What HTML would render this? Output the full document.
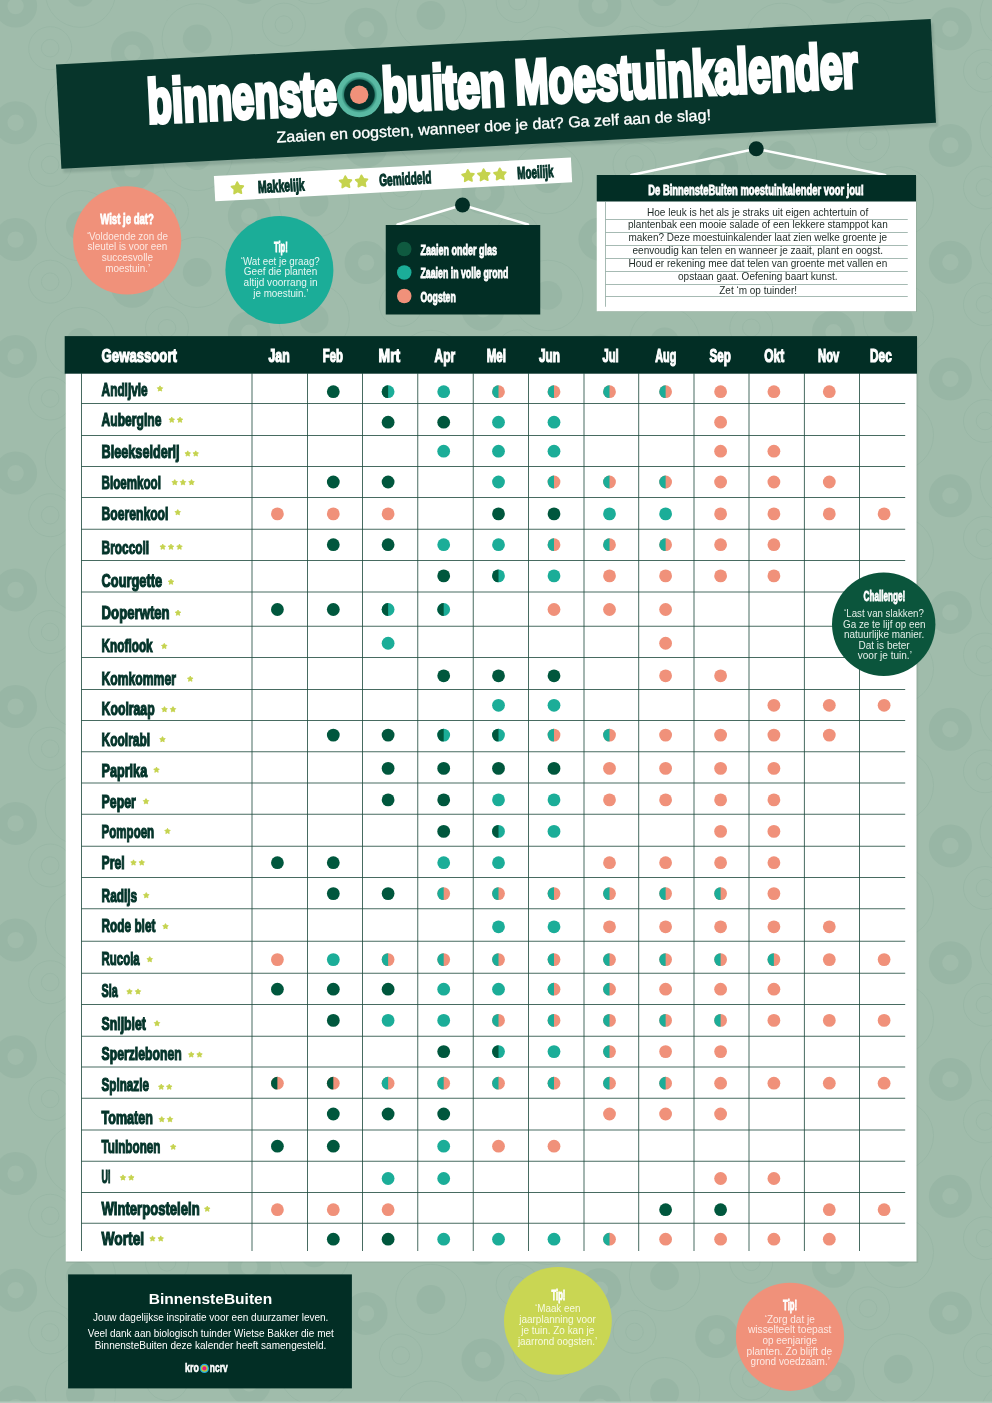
<!DOCTYPE html>
<html lang="nl"><head><meta charset="utf-8"><title>BinnensteBuiten Moestuinkalender</title>
<style>html,body{margin:0;padding:0;background:#a0bcab}svg{display:block}text{font-family:"Liberation Sans",sans-serif}</style>
</head><body>
<svg width="992" height="1403" viewBox="0 0 992 1403">
<rect width="992" height="1403" fill="#a0bcab"/>
<g fill="#98b6a5" stroke="none">
<circle cx="15.6" cy="6.1" r="14.85" fill="none" stroke="#98b6a5" stroke-width="13.3"/><circle cx="80.4" cy="-7.8" r="14.4"/><circle cx="15.6" cy="122.8" r="14.85" fill="none" stroke="#98b6a5" stroke-width="13.3"/><circle cx="80.4" cy="108.9" r="14.4"/><circle cx="15.6" cy="239.6" r="14.85" fill="none" stroke="#98b6a5" stroke-width="13.3"/><circle cx="80.4" cy="225.7" r="14.4"/><circle cx="15.6" cy="356.4" r="14.85" fill="none" stroke="#98b6a5" stroke-width="13.3"/><circle cx="80.4" cy="342.5" r="14.4"/><circle cx="15.6" cy="473.1" r="14.85" fill="none" stroke="#98b6a5" stroke-width="13.3"/><circle cx="80.4" cy="459.2" r="14.4"/><circle cx="15.6" cy="589.9" r="14.85" fill="none" stroke="#98b6a5" stroke-width="13.3"/><circle cx="80.4" cy="576.0" r="14.4"/><circle cx="15.6" cy="706.6" r="14.85" fill="none" stroke="#98b6a5" stroke-width="13.3"/><circle cx="80.4" cy="692.7" r="14.4"/><circle cx="15.6" cy="823.4" r="14.85" fill="none" stroke="#98b6a5" stroke-width="13.3"/><circle cx="80.4" cy="809.5" r="14.4"/><circle cx="15.6" cy="940.1" r="14.85" fill="none" stroke="#98b6a5" stroke-width="13.3"/><circle cx="80.4" cy="926.2" r="14.4"/><circle cx="15.6" cy="1056.8" r="14.85" fill="none" stroke="#98b6a5" stroke-width="13.3"/><circle cx="80.4" cy="1042.9" r="14.4"/><circle cx="15.6" cy="1173.6" r="14.85" fill="none" stroke="#98b6a5" stroke-width="13.3"/><circle cx="80.4" cy="1159.7" r="14.4"/><circle cx="15.6" cy="1290.3" r="14.85" fill="none" stroke="#98b6a5" stroke-width="13.3"/><circle cx="80.4" cy="1276.4" r="14.4"/><circle cx="15.6" cy="1407.1" r="14.85" fill="none" stroke="#98b6a5" stroke-width="13.3"/><circle cx="80.4" cy="1393.2" r="14.4"/><circle cx="132.4" cy="-64.0" r="14.85" fill="none" stroke="#98b6a5" stroke-width="13.3"/><circle cx="197.2" cy="-78.0" r="14.4"/><circle cx="132.4" cy="52.7" r="14.85" fill="none" stroke="#98b6a5" stroke-width="13.3"/><circle cx="197.2" cy="38.8" r="14.4"/><circle cx="132.4" cy="169.4" r="14.85" fill="none" stroke="#98b6a5" stroke-width="13.3"/><circle cx="197.2" cy="155.5" r="14.4"/><circle cx="132.4" cy="286.2" r="14.85" fill="none" stroke="#98b6a5" stroke-width="13.3"/><circle cx="197.2" cy="272.3" r="14.4"/><circle cx="132.4" cy="402.9" r="14.85" fill="none" stroke="#98b6a5" stroke-width="13.3"/><circle cx="197.2" cy="389.1" r="14.4"/><circle cx="132.4" cy="519.7" r="14.85" fill="none" stroke="#98b6a5" stroke-width="13.3"/><circle cx="197.2" cy="505.8" r="14.4"/><circle cx="132.4" cy="636.5" r="14.85" fill="none" stroke="#98b6a5" stroke-width="13.3"/><circle cx="197.2" cy="622.6" r="14.4"/><circle cx="132.4" cy="753.2" r="14.85" fill="none" stroke="#98b6a5" stroke-width="13.3"/><circle cx="197.2" cy="739.3" r="14.4"/><circle cx="132.4" cy="870.0" r="14.85" fill="none" stroke="#98b6a5" stroke-width="13.3"/><circle cx="197.2" cy="856.1" r="14.4"/><circle cx="132.4" cy="986.7" r="14.85" fill="none" stroke="#98b6a5" stroke-width="13.3"/><circle cx="197.2" cy="972.8" r="14.4"/><circle cx="132.4" cy="1103.5" r="14.85" fill="none" stroke="#98b6a5" stroke-width="13.3"/><circle cx="197.2" cy="1089.5" r="14.4"/><circle cx="132.4" cy="1220.2" r="14.85" fill="none" stroke="#98b6a5" stroke-width="13.3"/><circle cx="197.2" cy="1206.3" r="14.4"/><circle cx="132.4" cy="1337.0" r="14.85" fill="none" stroke="#98b6a5" stroke-width="13.3"/><circle cx="197.2" cy="1323.0" r="14.4"/><circle cx="132.4" cy="1453.7" r="14.85" fill="none" stroke="#98b6a5" stroke-width="13.3"/><circle cx="197.2" cy="1439.8" r="14.4"/><circle cx="249.3" cy="-17.5" r="14.85" fill="none" stroke="#98b6a5" stroke-width="13.3"/><circle cx="314.1" cy="-31.4" r="14.4"/><circle cx="249.3" cy="99.3" r="14.85" fill="none" stroke="#98b6a5" stroke-width="13.3"/><circle cx="314.1" cy="85.4" r="14.4"/><circle cx="249.3" cy="216.1" r="14.85" fill="none" stroke="#98b6a5" stroke-width="13.3"/><circle cx="314.1" cy="202.2" r="14.4"/><circle cx="249.3" cy="332.8" r="14.85" fill="none" stroke="#98b6a5" stroke-width="13.3"/><circle cx="314.1" cy="318.9" r="14.4"/><circle cx="249.3" cy="449.6" r="14.85" fill="none" stroke="#98b6a5" stroke-width="13.3"/><circle cx="314.1" cy="435.7" r="14.4"/><circle cx="249.3" cy="566.3" r="14.85" fill="none" stroke="#98b6a5" stroke-width="13.3"/><circle cx="314.1" cy="552.4" r="14.4"/><circle cx="249.3" cy="683.0" r="14.85" fill="none" stroke="#98b6a5" stroke-width="13.3"/><circle cx="314.1" cy="669.1" r="14.4"/><circle cx="249.3" cy="799.8" r="14.85" fill="none" stroke="#98b6a5" stroke-width="13.3"/><circle cx="314.1" cy="785.9" r="14.4"/><circle cx="249.3" cy="916.5" r="14.85" fill="none" stroke="#98b6a5" stroke-width="13.3"/><circle cx="314.1" cy="902.6" r="14.4"/><circle cx="249.3" cy="1033.3" r="14.85" fill="none" stroke="#98b6a5" stroke-width="13.3"/><circle cx="314.1" cy="1019.4" r="14.4"/><circle cx="249.3" cy="1150.0" r="14.85" fill="none" stroke="#98b6a5" stroke-width="13.3"/><circle cx="314.1" cy="1136.1" r="14.4"/><circle cx="249.3" cy="1266.8" r="14.85" fill="none" stroke="#98b6a5" stroke-width="13.3"/><circle cx="314.1" cy="1252.9" r="14.4"/><circle cx="249.3" cy="1383.5" r="14.85" fill="none" stroke="#98b6a5" stroke-width="13.3"/><circle cx="314.1" cy="1369.6" r="14.4"/><circle cx="366.1" cy="29.2" r="14.85" fill="none" stroke="#98b6a5" stroke-width="13.3"/><circle cx="430.9" cy="15.3" r="14.4"/><circle cx="366.1" cy="145.9" r="14.85" fill="none" stroke="#98b6a5" stroke-width="13.3"/><circle cx="430.9" cy="132.0" r="14.4"/><circle cx="366.1" cy="262.6" r="14.85" fill="none" stroke="#98b6a5" stroke-width="13.3"/><circle cx="430.9" cy="248.7" r="14.4"/><circle cx="366.1" cy="379.4" r="14.85" fill="none" stroke="#98b6a5" stroke-width="13.3"/><circle cx="430.9" cy="365.5" r="14.4"/><circle cx="366.1" cy="496.1" r="14.85" fill="none" stroke="#98b6a5" stroke-width="13.3"/><circle cx="430.9" cy="482.2" r="14.4"/><circle cx="366.1" cy="612.9" r="14.85" fill="none" stroke="#98b6a5" stroke-width="13.3"/><circle cx="430.9" cy="599.0" r="14.4"/><circle cx="366.1" cy="729.6" r="14.85" fill="none" stroke="#98b6a5" stroke-width="13.3"/><circle cx="430.9" cy="715.8" r="14.4"/><circle cx="366.1" cy="846.4" r="14.85" fill="none" stroke="#98b6a5" stroke-width="13.3"/><circle cx="430.9" cy="832.5" r="14.4"/><circle cx="366.1" cy="963.1" r="14.85" fill="none" stroke="#98b6a5" stroke-width="13.3"/><circle cx="430.9" cy="949.2" r="14.4"/><circle cx="366.1" cy="1079.9" r="14.85" fill="none" stroke="#98b6a5" stroke-width="13.3"/><circle cx="430.9" cy="1066.0" r="14.4"/><circle cx="366.1" cy="1196.7" r="14.85" fill="none" stroke="#98b6a5" stroke-width="13.3"/><circle cx="430.9" cy="1182.8" r="14.4"/><circle cx="366.1" cy="1313.4" r="14.85" fill="none" stroke="#98b6a5" stroke-width="13.3"/><circle cx="430.9" cy="1299.5" r="14.4"/><circle cx="366.1" cy="1430.2" r="14.85" fill="none" stroke="#98b6a5" stroke-width="13.3"/><circle cx="430.9" cy="1416.2" r="14.4"/><circle cx="483.0" cy="-41.0" r="14.85" fill="none" stroke="#98b6a5" stroke-width="13.3"/><circle cx="547.8" cy="-54.9" r="14.4"/><circle cx="483.0" cy="75.8" r="14.85" fill="none" stroke="#98b6a5" stroke-width="13.3"/><circle cx="547.8" cy="61.9" r="14.4"/><circle cx="483.0" cy="192.5" r="14.85" fill="none" stroke="#98b6a5" stroke-width="13.3"/><circle cx="547.8" cy="178.6" r="14.4"/><circle cx="483.0" cy="309.2" r="14.85" fill="none" stroke="#98b6a5" stroke-width="13.3"/><circle cx="547.8" cy="295.4" r="14.4"/><circle cx="483.0" cy="426.0" r="14.85" fill="none" stroke="#98b6a5" stroke-width="13.3"/><circle cx="547.8" cy="412.1" r="14.4"/><circle cx="483.0" cy="542.8" r="14.85" fill="none" stroke="#98b6a5" stroke-width="13.3"/><circle cx="547.8" cy="528.9" r="14.4"/><circle cx="483.0" cy="659.5" r="14.85" fill="none" stroke="#98b6a5" stroke-width="13.3"/><circle cx="547.8" cy="645.6" r="14.4"/><circle cx="483.0" cy="776.2" r="14.85" fill="none" stroke="#98b6a5" stroke-width="13.3"/><circle cx="547.8" cy="762.4" r="14.4"/><circle cx="483.0" cy="893.0" r="14.85" fill="none" stroke="#98b6a5" stroke-width="13.3"/><circle cx="547.8" cy="879.1" r="14.4"/><circle cx="483.0" cy="1009.8" r="14.85" fill="none" stroke="#98b6a5" stroke-width="13.3"/><circle cx="547.8" cy="995.9" r="14.4"/><circle cx="483.0" cy="1126.5" r="14.85" fill="none" stroke="#98b6a5" stroke-width="13.3"/><circle cx="547.8" cy="1112.6" r="14.4"/><circle cx="483.0" cy="1243.2" r="14.85" fill="none" stroke="#98b6a5" stroke-width="13.3"/><circle cx="547.8" cy="1229.3" r="14.4"/><circle cx="483.0" cy="1360.0" r="14.85" fill="none" stroke="#98b6a5" stroke-width="13.3"/><circle cx="547.8" cy="1346.1" r="14.4"/><circle cx="483.0" cy="1476.8" r="14.85" fill="none" stroke="#98b6a5" stroke-width="13.3"/><circle cx="547.8" cy="1462.8" r="14.4"/><circle cx="599.9" cy="5.6" r="14.85" fill="none" stroke="#98b6a5" stroke-width="13.3"/><circle cx="664.6" cy="-8.3" r="14.4"/><circle cx="599.9" cy="122.3" r="14.85" fill="none" stroke="#98b6a5" stroke-width="13.3"/><circle cx="664.6" cy="108.4" r="14.4"/><circle cx="599.9" cy="239.1" r="14.85" fill="none" stroke="#98b6a5" stroke-width="13.3"/><circle cx="664.6" cy="225.2" r="14.4"/><circle cx="599.9" cy="355.9" r="14.85" fill="none" stroke="#98b6a5" stroke-width="13.3"/><circle cx="664.6" cy="342.0" r="14.4"/><circle cx="599.9" cy="472.6" r="14.85" fill="none" stroke="#98b6a5" stroke-width="13.3"/><circle cx="664.6" cy="458.7" r="14.4"/><circle cx="599.9" cy="589.4" r="14.85" fill="none" stroke="#98b6a5" stroke-width="13.3"/><circle cx="664.6" cy="575.5" r="14.4"/><circle cx="599.9" cy="706.1" r="14.85" fill="none" stroke="#98b6a5" stroke-width="13.3"/><circle cx="664.6" cy="692.2" r="14.4"/><circle cx="599.9" cy="822.9" r="14.85" fill="none" stroke="#98b6a5" stroke-width="13.3"/><circle cx="664.6" cy="809.0" r="14.4"/><circle cx="599.9" cy="939.6" r="14.85" fill="none" stroke="#98b6a5" stroke-width="13.3"/><circle cx="664.6" cy="925.7" r="14.4"/><circle cx="599.9" cy="1056.3" r="14.85" fill="none" stroke="#98b6a5" stroke-width="13.3"/><circle cx="664.6" cy="1042.4" r="14.4"/><circle cx="599.9" cy="1173.1" r="14.85" fill="none" stroke="#98b6a5" stroke-width="13.3"/><circle cx="664.6" cy="1159.2" r="14.4"/><circle cx="599.9" cy="1289.8" r="14.85" fill="none" stroke="#98b6a5" stroke-width="13.3"/><circle cx="664.6" cy="1275.9" r="14.4"/><circle cx="599.9" cy="1406.6" r="14.85" fill="none" stroke="#98b6a5" stroke-width="13.3"/><circle cx="664.6" cy="1392.7" r="14.4"/><circle cx="716.7" cy="-64.5" r="14.85" fill="none" stroke="#98b6a5" stroke-width="13.3"/><circle cx="781.5" cy="-78.4" r="14.4"/><circle cx="716.7" cy="52.2" r="14.85" fill="none" stroke="#98b6a5" stroke-width="13.3"/><circle cx="781.5" cy="38.3" r="14.4"/><circle cx="716.7" cy="169.0" r="14.85" fill="none" stroke="#98b6a5" stroke-width="13.3"/><circle cx="781.5" cy="155.1" r="14.4"/><circle cx="716.7" cy="285.7" r="14.85" fill="none" stroke="#98b6a5" stroke-width="13.3"/><circle cx="781.5" cy="271.8" r="14.4"/><circle cx="716.7" cy="402.5" r="14.85" fill="none" stroke="#98b6a5" stroke-width="13.3"/><circle cx="781.5" cy="388.6" r="14.4"/><circle cx="716.7" cy="519.2" r="14.85" fill="none" stroke="#98b6a5" stroke-width="13.3"/><circle cx="781.5" cy="505.3" r="14.4"/><circle cx="716.7" cy="636.0" r="14.85" fill="none" stroke="#98b6a5" stroke-width="13.3"/><circle cx="781.5" cy="622.1" r="14.4"/><circle cx="716.7" cy="752.7" r="14.85" fill="none" stroke="#98b6a5" stroke-width="13.3"/><circle cx="781.5" cy="738.8" r="14.4"/><circle cx="716.7" cy="869.5" r="14.85" fill="none" stroke="#98b6a5" stroke-width="13.3"/><circle cx="781.5" cy="855.6" r="14.4"/><circle cx="716.7" cy="986.2" r="14.85" fill="none" stroke="#98b6a5" stroke-width="13.3"/><circle cx="781.5" cy="972.3" r="14.4"/><circle cx="716.7" cy="1103.0" r="14.85" fill="none" stroke="#98b6a5" stroke-width="13.3"/><circle cx="781.5" cy="1089.0" r="14.4"/><circle cx="716.7" cy="1219.7" r="14.85" fill="none" stroke="#98b6a5" stroke-width="13.3"/><circle cx="781.5" cy="1205.8" r="14.4"/><circle cx="716.7" cy="1336.5" r="14.85" fill="none" stroke="#98b6a5" stroke-width="13.3"/><circle cx="781.5" cy="1322.5" r="14.4"/><circle cx="716.7" cy="1453.2" r="14.85" fill="none" stroke="#98b6a5" stroke-width="13.3"/><circle cx="781.5" cy="1439.3" r="14.4"/><circle cx="833.5" cy="-17.9" r="14.85" fill="none" stroke="#98b6a5" stroke-width="13.3"/><circle cx="898.3" cy="-31.8" r="14.4"/><circle cx="833.5" cy="98.8" r="14.85" fill="none" stroke="#98b6a5" stroke-width="13.3"/><circle cx="898.3" cy="84.9" r="14.4"/><circle cx="833.5" cy="215.6" r="14.85" fill="none" stroke="#98b6a5" stroke-width="13.3"/><circle cx="898.3" cy="201.7" r="14.4"/><circle cx="833.5" cy="332.3" r="14.85" fill="none" stroke="#98b6a5" stroke-width="13.3"/><circle cx="898.3" cy="318.4" r="14.4"/><circle cx="833.5" cy="449.1" r="14.85" fill="none" stroke="#98b6a5" stroke-width="13.3"/><circle cx="898.3" cy="435.2" r="14.4"/><circle cx="833.5" cy="565.8" r="14.85" fill="none" stroke="#98b6a5" stroke-width="13.3"/><circle cx="898.3" cy="551.9" r="14.4"/><circle cx="833.5" cy="682.5" r="14.85" fill="none" stroke="#98b6a5" stroke-width="13.3"/><circle cx="898.3" cy="668.6" r="14.4"/><circle cx="833.5" cy="799.3" r="14.85" fill="none" stroke="#98b6a5" stroke-width="13.3"/><circle cx="898.3" cy="785.4" r="14.4"/><circle cx="833.5" cy="916.0" r="14.85" fill="none" stroke="#98b6a5" stroke-width="13.3"/><circle cx="898.3" cy="902.1" r="14.4"/><circle cx="833.5" cy="1032.8" r="14.85" fill="none" stroke="#98b6a5" stroke-width="13.3"/><circle cx="898.3" cy="1018.9" r="14.4"/><circle cx="833.5" cy="1149.5" r="14.85" fill="none" stroke="#98b6a5" stroke-width="13.3"/><circle cx="898.3" cy="1135.6" r="14.4"/><circle cx="833.5" cy="1266.3" r="14.85" fill="none" stroke="#98b6a5" stroke-width="13.3"/><circle cx="898.3" cy="1252.4" r="14.4"/><circle cx="833.5" cy="1383.0" r="14.85" fill="none" stroke="#98b6a5" stroke-width="13.3"/><circle cx="898.3" cy="1369.1" r="14.4"/><circle cx="950.4" cy="28.7" r="14.85" fill="none" stroke="#98b6a5" stroke-width="13.3"/><circle cx="1015.2" cy="14.8" r="14.4"/><circle cx="950.4" cy="145.4" r="14.85" fill="none" stroke="#98b6a5" stroke-width="13.3"/><circle cx="1015.2" cy="131.5" r="14.4"/><circle cx="950.4" cy="262.2" r="14.85" fill="none" stroke="#98b6a5" stroke-width="13.3"/><circle cx="1015.2" cy="248.3" r="14.4"/><circle cx="950.4" cy="378.9" r="14.85" fill="none" stroke="#98b6a5" stroke-width="13.3"/><circle cx="1015.2" cy="365.0" r="14.4"/><circle cx="950.4" cy="495.7" r="14.85" fill="none" stroke="#98b6a5" stroke-width="13.3"/><circle cx="1015.2" cy="481.8" r="14.4"/><circle cx="950.4" cy="612.4" r="14.85" fill="none" stroke="#98b6a5" stroke-width="13.3"/><circle cx="1015.2" cy="598.5" r="14.4"/><circle cx="950.4" cy="729.2" r="14.85" fill="none" stroke="#98b6a5" stroke-width="13.3"/><circle cx="1015.2" cy="715.3" r="14.4"/><circle cx="950.4" cy="845.9" r="14.85" fill="none" stroke="#98b6a5" stroke-width="13.3"/><circle cx="1015.2" cy="832.0" r="14.4"/><circle cx="950.4" cy="962.7" r="14.85" fill="none" stroke="#98b6a5" stroke-width="13.3"/><circle cx="1015.2" cy="948.8" r="14.4"/><circle cx="950.4" cy="1079.4" r="14.85" fill="none" stroke="#98b6a5" stroke-width="13.3"/><circle cx="1015.2" cy="1065.5" r="14.4"/><circle cx="950.4" cy="1196.2" r="14.85" fill="none" stroke="#98b6a5" stroke-width="13.3"/><circle cx="1015.2" cy="1182.2" r="14.4"/><circle cx="950.4" cy="1312.9" r="14.85" fill="none" stroke="#98b6a5" stroke-width="13.3"/><circle cx="1015.2" cy="1299.0" r="14.4"/><circle cx="950.4" cy="1429.7" r="14.85" fill="none" stroke="#98b6a5" stroke-width="13.3"/><circle cx="1015.2" cy="1415.8" r="14.4"/><circle cx="1067.2" cy="-41.5" r="14.85" fill="none" stroke="#98b6a5" stroke-width="13.3"/><circle cx="1132.0" cy="-55.4" r="14.4"/><circle cx="1067.2" cy="75.3" r="14.85" fill="none" stroke="#98b6a5" stroke-width="13.3"/><circle cx="1132.0" cy="61.4" r="14.4"/><circle cx="1067.2" cy="192.0" r="14.85" fill="none" stroke="#98b6a5" stroke-width="13.3"/><circle cx="1132.0" cy="178.1" r="14.4"/><circle cx="1067.2" cy="308.8" r="14.85" fill="none" stroke="#98b6a5" stroke-width="13.3"/><circle cx="1132.0" cy="294.9" r="14.4"/><circle cx="1067.2" cy="425.5" r="14.85" fill="none" stroke="#98b6a5" stroke-width="13.3"/><circle cx="1132.0" cy="411.6" r="14.4"/><circle cx="1067.2" cy="542.2" r="14.85" fill="none" stroke="#98b6a5" stroke-width="13.3"/><circle cx="1132.0" cy="528.4" r="14.4"/><circle cx="1067.2" cy="659.0" r="14.85" fill="none" stroke="#98b6a5" stroke-width="13.3"/><circle cx="1132.0" cy="645.1" r="14.4"/><circle cx="1067.2" cy="775.8" r="14.85" fill="none" stroke="#98b6a5" stroke-width="13.3"/><circle cx="1132.0" cy="761.9" r="14.4"/><circle cx="1067.2" cy="892.5" r="14.85" fill="none" stroke="#98b6a5" stroke-width="13.3"/><circle cx="1132.0" cy="878.6" r="14.4"/><circle cx="1067.2" cy="1009.2" r="14.85" fill="none" stroke="#98b6a5" stroke-width="13.3"/><circle cx="1132.0" cy="995.4" r="14.4"/><circle cx="1067.2" cy="1126.0" r="14.85" fill="none" stroke="#98b6a5" stroke-width="13.3"/><circle cx="1132.0" cy="1112.1" r="14.4"/><circle cx="1067.2" cy="1242.8" r="14.85" fill="none" stroke="#98b6a5" stroke-width="13.3"/><circle cx="1132.0" cy="1228.8" r="14.4"/><circle cx="1067.2" cy="1359.5" r="14.85" fill="none" stroke="#98b6a5" stroke-width="13.3"/><circle cx="1132.0" cy="1345.6" r="14.4"/><circle cx="1067.2" cy="1476.2" r="14.85" fill="none" stroke="#98b6a5" stroke-width="13.3"/><circle cx="1132.0" cy="1462.3" r="14.4"/>
</g>
<g fill="none" stroke="#98b6a5" stroke-width="1" opacity="0.8">
<circle cx="80.4" cy="-7.8" r="35.2"/><circle cx="50.2" cy="48.2" r="21.5"/><circle cx="50.2" cy="48.2" r="8.8"/><circle cx="80.4" cy="108.9" r="35.2"/><circle cx="50.2" cy="164.9" r="21.5"/><circle cx="50.2" cy="164.9" r="8.8"/><circle cx="80.4" cy="225.7" r="35.2"/><circle cx="50.2" cy="281.7" r="21.5"/><circle cx="50.2" cy="281.7" r="8.8"/><circle cx="80.4" cy="342.5" r="35.2"/><circle cx="50.2" cy="398.5" r="21.5"/><circle cx="50.2" cy="398.5" r="8.8"/><circle cx="80.4" cy="459.2" r="35.2"/><circle cx="50.2" cy="515.2" r="21.5"/><circle cx="50.2" cy="515.2" r="8.8"/><circle cx="80.4" cy="576.0" r="35.2"/><circle cx="50.2" cy="632.0" r="21.5"/><circle cx="50.2" cy="632.0" r="8.8"/><circle cx="80.4" cy="692.7" r="35.2"/><circle cx="50.2" cy="748.7" r="21.5"/><circle cx="50.2" cy="748.7" r="8.8"/><circle cx="80.4" cy="809.5" r="35.2"/><circle cx="50.2" cy="865.5" r="21.5"/><circle cx="50.2" cy="865.5" r="8.8"/><circle cx="80.4" cy="926.2" r="35.2"/><circle cx="50.2" cy="982.2" r="21.5"/><circle cx="50.2" cy="982.2" r="8.8"/><circle cx="80.4" cy="1042.9" r="35.2"/><circle cx="50.2" cy="1098.9" r="21.5"/><circle cx="50.2" cy="1098.9" r="8.8"/><circle cx="80.4" cy="1159.7" r="35.2"/><circle cx="50.2" cy="1215.7" r="21.5"/><circle cx="50.2" cy="1215.7" r="8.8"/><circle cx="80.4" cy="1276.4" r="35.2"/><circle cx="50.2" cy="1332.4" r="21.5"/><circle cx="50.2" cy="1332.4" r="8.8"/><circle cx="80.4" cy="1393.2" r="35.2"/><circle cx="50.2" cy="1449.2" r="21.5"/><circle cx="50.2" cy="1449.2" r="8.8"/><circle cx="197.2" cy="-78.0" r="35.2"/><circle cx="167.0" cy="-21.9" r="21.5"/><circle cx="167.0" cy="-21.9" r="8.8"/><circle cx="197.2" cy="38.8" r="35.2"/><circle cx="167.0" cy="94.8" r="21.5"/><circle cx="167.0" cy="94.8" r="8.8"/><circle cx="197.2" cy="155.5" r="35.2"/><circle cx="167.0" cy="211.5" r="21.5"/><circle cx="167.0" cy="211.5" r="8.8"/><circle cx="197.2" cy="272.3" r="35.2"/><circle cx="167.0" cy="328.3" r="21.5"/><circle cx="167.0" cy="328.3" r="8.8"/><circle cx="197.2" cy="389.1" r="35.2"/><circle cx="167.0" cy="445.1" r="21.5"/><circle cx="167.0" cy="445.1" r="8.8"/><circle cx="197.2" cy="505.8" r="35.2"/><circle cx="167.0" cy="561.8" r="21.5"/><circle cx="167.0" cy="561.8" r="8.8"/><circle cx="197.2" cy="622.6" r="35.2"/><circle cx="167.0" cy="678.6" r="21.5"/><circle cx="167.0" cy="678.6" r="8.8"/><circle cx="197.2" cy="739.3" r="35.2"/><circle cx="167.0" cy="795.3" r="21.5"/><circle cx="167.0" cy="795.3" r="8.8"/><circle cx="197.2" cy="856.1" r="35.2"/><circle cx="167.0" cy="912.1" r="21.5"/><circle cx="167.0" cy="912.1" r="8.8"/><circle cx="197.2" cy="972.8" r="35.2"/><circle cx="167.0" cy="1028.8" r="21.5"/><circle cx="167.0" cy="1028.8" r="8.8"/><circle cx="197.2" cy="1089.5" r="35.2"/><circle cx="167.0" cy="1145.5" r="21.5"/><circle cx="167.0" cy="1145.5" r="8.8"/><circle cx="197.2" cy="1206.3" r="35.2"/><circle cx="167.0" cy="1262.3" r="21.5"/><circle cx="167.0" cy="1262.3" r="8.8"/><circle cx="197.2" cy="1323.0" r="35.2"/><circle cx="167.0" cy="1379.0" r="21.5"/><circle cx="167.0" cy="1379.0" r="8.8"/><circle cx="197.2" cy="1439.8" r="35.2"/><circle cx="167.0" cy="1495.8" r="21.5"/><circle cx="167.0" cy="1495.8" r="8.8"/><circle cx="314.1" cy="-31.4" r="35.2"/><circle cx="283.9" cy="24.6" r="21.5"/><circle cx="283.9" cy="24.6" r="8.8"/><circle cx="314.1" cy="85.4" r="35.2"/><circle cx="283.9" cy="141.4" r="21.5"/><circle cx="283.9" cy="141.4" r="8.8"/><circle cx="314.1" cy="202.2" r="35.2"/><circle cx="283.9" cy="258.2" r="21.5"/><circle cx="283.9" cy="258.2" r="8.8"/><circle cx="314.1" cy="318.9" r="35.2"/><circle cx="283.9" cy="374.9" r="21.5"/><circle cx="283.9" cy="374.9" r="8.8"/><circle cx="314.1" cy="435.7" r="35.2"/><circle cx="283.9" cy="491.7" r="21.5"/><circle cx="283.9" cy="491.7" r="8.8"/><circle cx="314.1" cy="552.4" r="35.2"/><circle cx="283.9" cy="608.4" r="21.5"/><circle cx="283.9" cy="608.4" r="8.8"/><circle cx="314.1" cy="669.1" r="35.2"/><circle cx="283.9" cy="725.1" r="21.5"/><circle cx="283.9" cy="725.1" r="8.8"/><circle cx="314.1" cy="785.9" r="35.2"/><circle cx="283.9" cy="841.9" r="21.5"/><circle cx="283.9" cy="841.9" r="8.8"/><circle cx="314.1" cy="902.6" r="35.2"/><circle cx="283.9" cy="958.6" r="21.5"/><circle cx="283.9" cy="958.6" r="8.8"/><circle cx="314.1" cy="1019.4" r="35.2"/><circle cx="283.9" cy="1075.4" r="21.5"/><circle cx="283.9" cy="1075.4" r="8.8"/><circle cx="314.1" cy="1136.1" r="35.2"/><circle cx="283.9" cy="1192.1" r="21.5"/><circle cx="283.9" cy="1192.1" r="8.8"/><circle cx="314.1" cy="1252.9" r="35.2"/><circle cx="283.9" cy="1308.9" r="21.5"/><circle cx="283.9" cy="1308.9" r="8.8"/><circle cx="314.1" cy="1369.6" r="35.2"/><circle cx="283.9" cy="1425.6" r="21.5"/><circle cx="283.9" cy="1425.6" r="8.8"/><circle cx="430.9" cy="15.3" r="35.2"/><circle cx="400.8" cy="71.2" r="21.5"/><circle cx="400.8" cy="71.2" r="8.8"/><circle cx="430.9" cy="132.0" r="35.2"/><circle cx="400.8" cy="188.0" r="21.5"/><circle cx="400.8" cy="188.0" r="8.8"/><circle cx="430.9" cy="248.7" r="35.2"/><circle cx="400.8" cy="304.8" r="21.5"/><circle cx="400.8" cy="304.8" r="8.8"/><circle cx="430.9" cy="365.5" r="35.2"/><circle cx="400.8" cy="421.5" r="21.5"/><circle cx="400.8" cy="421.5" r="8.8"/><circle cx="430.9" cy="482.2" r="35.2"/><circle cx="400.8" cy="538.2" r="21.5"/><circle cx="400.8" cy="538.2" r="8.8"/><circle cx="430.9" cy="599.0" r="35.2"/><circle cx="400.8" cy="655.0" r="21.5"/><circle cx="400.8" cy="655.0" r="8.8"/><circle cx="430.9" cy="715.8" r="35.2"/><circle cx="400.8" cy="771.8" r="21.5"/><circle cx="400.8" cy="771.8" r="8.8"/><circle cx="430.9" cy="832.5" r="35.2"/><circle cx="400.8" cy="888.5" r="21.5"/><circle cx="400.8" cy="888.5" r="8.8"/><circle cx="430.9" cy="949.2" r="35.2"/><circle cx="400.8" cy="1005.2" r="21.5"/><circle cx="400.8" cy="1005.2" r="8.8"/><circle cx="430.9" cy="1066.0" r="35.2"/><circle cx="400.8" cy="1122.0" r="21.5"/><circle cx="400.8" cy="1122.0" r="8.8"/><circle cx="430.9" cy="1182.8" r="35.2"/><circle cx="400.8" cy="1238.8" r="21.5"/><circle cx="400.8" cy="1238.8" r="8.8"/><circle cx="430.9" cy="1299.5" r="35.2"/><circle cx="400.8" cy="1355.5" r="21.5"/><circle cx="400.8" cy="1355.5" r="8.8"/><circle cx="430.9" cy="1416.2" r="35.2"/><circle cx="400.8" cy="1472.2" r="21.5"/><circle cx="400.8" cy="1472.2" r="8.8"/><circle cx="547.8" cy="-54.9" r="35.2"/><circle cx="517.6" cy="1.1" r="21.5"/><circle cx="517.6" cy="1.1" r="8.8"/><circle cx="547.8" cy="61.9" r="35.2"/><circle cx="517.6" cy="117.8" r="21.5"/><circle cx="517.6" cy="117.8" r="8.8"/><circle cx="547.8" cy="178.6" r="35.2"/><circle cx="517.6" cy="234.6" r="21.5"/><circle cx="517.6" cy="234.6" r="8.8"/><circle cx="547.8" cy="295.4" r="35.2"/><circle cx="517.6" cy="351.4" r="21.5"/><circle cx="517.6" cy="351.4" r="8.8"/><circle cx="547.8" cy="412.1" r="35.2"/><circle cx="517.6" cy="468.1" r="21.5"/><circle cx="517.6" cy="468.1" r="8.8"/><circle cx="547.8" cy="528.9" r="35.2"/><circle cx="517.6" cy="584.9" r="21.5"/><circle cx="517.6" cy="584.9" r="8.8"/><circle cx="547.8" cy="645.6" r="35.2"/><circle cx="517.6" cy="701.6" r="21.5"/><circle cx="517.6" cy="701.6" r="8.8"/><circle cx="547.8" cy="762.4" r="35.2"/><circle cx="517.6" cy="818.4" r="21.5"/><circle cx="517.6" cy="818.4" r="8.8"/><circle cx="547.8" cy="879.1" r="35.2"/><circle cx="517.6" cy="935.1" r="21.5"/><circle cx="517.6" cy="935.1" r="8.8"/><circle cx="547.8" cy="995.9" r="35.2"/><circle cx="517.6" cy="1051.8" r="21.5"/><circle cx="517.6" cy="1051.8" r="8.8"/><circle cx="547.8" cy="1112.6" r="35.2"/><circle cx="517.6" cy="1168.6" r="21.5"/><circle cx="517.6" cy="1168.6" r="8.8"/><circle cx="547.8" cy="1229.3" r="35.2"/><circle cx="517.6" cy="1285.3" r="21.5"/><circle cx="517.6" cy="1285.3" r="8.8"/><circle cx="547.8" cy="1346.1" r="35.2"/><circle cx="517.6" cy="1402.1" r="21.5"/><circle cx="517.6" cy="1402.1" r="8.8"/><circle cx="547.8" cy="1462.8" r="35.2"/><circle cx="517.6" cy="1518.8" r="21.5"/><circle cx="517.6" cy="1518.8" r="8.8"/><circle cx="664.6" cy="-8.3" r="35.2"/><circle cx="634.5" cy="47.7" r="21.5"/><circle cx="634.5" cy="47.7" r="8.8"/><circle cx="664.6" cy="108.4" r="35.2"/><circle cx="634.5" cy="164.4" r="21.5"/><circle cx="634.5" cy="164.4" r="8.8"/><circle cx="664.6" cy="225.2" r="35.2"/><circle cx="634.5" cy="281.2" r="21.5"/><circle cx="634.5" cy="281.2" r="8.8"/><circle cx="664.6" cy="342.0" r="35.2"/><circle cx="634.5" cy="398.0" r="21.5"/><circle cx="634.5" cy="398.0" r="8.8"/><circle cx="664.6" cy="458.7" r="35.2"/><circle cx="634.5" cy="514.7" r="21.5"/><circle cx="634.5" cy="514.7" r="8.8"/><circle cx="664.6" cy="575.5" r="35.2"/><circle cx="634.5" cy="631.5" r="21.5"/><circle cx="634.5" cy="631.5" r="8.8"/><circle cx="664.6" cy="692.2" r="35.2"/><circle cx="634.5" cy="748.2" r="21.5"/><circle cx="634.5" cy="748.2" r="8.8"/><circle cx="664.6" cy="809.0" r="35.2"/><circle cx="634.5" cy="865.0" r="21.5"/><circle cx="634.5" cy="865.0" r="8.8"/><circle cx="664.6" cy="925.7" r="35.2"/><circle cx="634.5" cy="981.7" r="21.5"/><circle cx="634.5" cy="981.7" r="8.8"/><circle cx="664.6" cy="1042.4" r="35.2"/><circle cx="634.5" cy="1098.4" r="21.5"/><circle cx="634.5" cy="1098.4" r="8.8"/><circle cx="664.6" cy="1159.2" r="35.2"/><circle cx="634.5" cy="1215.2" r="21.5"/><circle cx="634.5" cy="1215.2" r="8.8"/><circle cx="664.6" cy="1275.9" r="35.2"/><circle cx="634.5" cy="1331.9" r="21.5"/><circle cx="634.5" cy="1331.9" r="8.8"/><circle cx="664.6" cy="1392.7" r="35.2"/><circle cx="634.5" cy="1448.7" r="21.5"/><circle cx="634.5" cy="1448.7" r="8.8"/><circle cx="781.5" cy="-78.4" r="35.2"/><circle cx="751.3" cy="-22.4" r="21.5"/><circle cx="751.3" cy="-22.4" r="8.8"/><circle cx="781.5" cy="38.3" r="35.2"/><circle cx="751.3" cy="94.3" r="21.5"/><circle cx="751.3" cy="94.3" r="8.8"/><circle cx="781.5" cy="155.1" r="35.2"/><circle cx="751.3" cy="211.1" r="21.5"/><circle cx="751.3" cy="211.1" r="8.8"/><circle cx="781.5" cy="271.8" r="35.2"/><circle cx="751.3" cy="327.8" r="21.5"/><circle cx="751.3" cy="327.8" r="8.8"/><circle cx="781.5" cy="388.6" r="35.2"/><circle cx="751.3" cy="444.6" r="21.5"/><circle cx="751.3" cy="444.6" r="8.8"/><circle cx="781.5" cy="505.3" r="35.2"/><circle cx="751.3" cy="561.3" r="21.5"/><circle cx="751.3" cy="561.3" r="8.8"/><circle cx="781.5" cy="622.1" r="35.2"/><circle cx="751.3" cy="678.1" r="21.5"/><circle cx="751.3" cy="678.1" r="8.8"/><circle cx="781.5" cy="738.8" r="35.2"/><circle cx="751.3" cy="794.8" r="21.5"/><circle cx="751.3" cy="794.8" r="8.8"/><circle cx="781.5" cy="855.6" r="35.2"/><circle cx="751.3" cy="911.6" r="21.5"/><circle cx="751.3" cy="911.6" r="8.8"/><circle cx="781.5" cy="972.3" r="35.2"/><circle cx="751.3" cy="1028.3" r="21.5"/><circle cx="751.3" cy="1028.3" r="8.8"/><circle cx="781.5" cy="1089.0" r="35.2"/><circle cx="751.3" cy="1145.0" r="21.5"/><circle cx="751.3" cy="1145.0" r="8.8"/><circle cx="781.5" cy="1205.8" r="35.2"/><circle cx="751.3" cy="1261.8" r="21.5"/><circle cx="751.3" cy="1261.8" r="8.8"/><circle cx="781.5" cy="1322.5" r="35.2"/><circle cx="751.3" cy="1378.5" r="21.5"/><circle cx="751.3" cy="1378.5" r="8.8"/><circle cx="781.5" cy="1439.3" r="35.2"/><circle cx="751.3" cy="1495.3" r="21.5"/><circle cx="751.3" cy="1495.3" r="8.8"/><circle cx="898.3" cy="-31.8" r="35.2"/><circle cx="868.1" cy="24.2" r="21.5"/><circle cx="868.1" cy="24.2" r="8.8"/><circle cx="898.3" cy="84.9" r="35.2"/><circle cx="868.1" cy="140.9" r="21.5"/><circle cx="868.1" cy="140.9" r="8.8"/><circle cx="898.3" cy="201.7" r="35.2"/><circle cx="868.1" cy="257.7" r="21.5"/><circle cx="868.1" cy="257.7" r="8.8"/><circle cx="898.3" cy="318.4" r="35.2"/><circle cx="868.1" cy="374.4" r="21.5"/><circle cx="868.1" cy="374.4" r="8.8"/><circle cx="898.3" cy="435.2" r="35.2"/><circle cx="868.1" cy="491.2" r="21.5"/><circle cx="868.1" cy="491.2" r="8.8"/><circle cx="898.3" cy="551.9" r="35.2"/><circle cx="868.1" cy="607.9" r="21.5"/><circle cx="868.1" cy="607.9" r="8.8"/><circle cx="898.3" cy="668.6" r="35.2"/><circle cx="868.1" cy="724.6" r="21.5"/><circle cx="868.1" cy="724.6" r="8.8"/><circle cx="898.3" cy="785.4" r="35.2"/><circle cx="868.1" cy="841.4" r="21.5"/><circle cx="868.1" cy="841.4" r="8.8"/><circle cx="898.3" cy="902.1" r="35.2"/><circle cx="868.1" cy="958.1" r="21.5"/><circle cx="868.1" cy="958.1" r="8.8"/><circle cx="898.3" cy="1018.9" r="35.2"/><circle cx="868.1" cy="1074.9" r="21.5"/><circle cx="868.1" cy="1074.9" r="8.8"/><circle cx="898.3" cy="1135.6" r="35.2"/><circle cx="868.1" cy="1191.6" r="21.5"/><circle cx="868.1" cy="1191.6" r="8.8"/><circle cx="898.3" cy="1252.4" r="35.2"/><circle cx="868.1" cy="1308.4" r="21.5"/><circle cx="868.1" cy="1308.4" r="8.8"/><circle cx="898.3" cy="1369.1" r="35.2"/><circle cx="868.1" cy="1425.1" r="21.5"/><circle cx="868.1" cy="1425.1" r="8.8"/><circle cx="1015.2" cy="14.8" r="35.2"/><circle cx="985.0" cy="70.8" r="21.5"/><circle cx="985.0" cy="70.8" r="8.8"/><circle cx="1015.2" cy="131.5" r="35.2"/><circle cx="985.0" cy="187.5" r="21.5"/><circle cx="985.0" cy="187.5" r="8.8"/><circle cx="1015.2" cy="248.3" r="35.2"/><circle cx="985.0" cy="304.3" r="21.5"/><circle cx="985.0" cy="304.3" r="8.8"/><circle cx="1015.2" cy="365.0" r="35.2"/><circle cx="985.0" cy="421.0" r="21.5"/><circle cx="985.0" cy="421.0" r="8.8"/><circle cx="1015.2" cy="481.8" r="35.2"/><circle cx="985.0" cy="537.8" r="21.5"/><circle cx="985.0" cy="537.8" r="8.8"/><circle cx="1015.2" cy="598.5" r="35.2"/><circle cx="985.0" cy="654.5" r="21.5"/><circle cx="985.0" cy="654.5" r="8.8"/><circle cx="1015.2" cy="715.3" r="35.2"/><circle cx="985.0" cy="771.3" r="21.5"/><circle cx="985.0" cy="771.3" r="8.8"/><circle cx="1015.2" cy="832.0" r="35.2"/><circle cx="985.0" cy="888.0" r="21.5"/><circle cx="985.0" cy="888.0" r="8.8"/><circle cx="1015.2" cy="948.8" r="35.2"/><circle cx="985.0" cy="1004.8" r="21.5"/><circle cx="985.0" cy="1004.8" r="8.8"/><circle cx="1015.2" cy="1065.5" r="35.2"/><circle cx="985.0" cy="1121.5" r="21.5"/><circle cx="985.0" cy="1121.5" r="8.8"/><circle cx="1015.2" cy="1182.2" r="35.2"/><circle cx="985.0" cy="1238.2" r="21.5"/><circle cx="985.0" cy="1238.2" r="8.8"/><circle cx="1015.2" cy="1299.0" r="35.2"/><circle cx="985.0" cy="1355.0" r="21.5"/><circle cx="985.0" cy="1355.0" r="8.8"/><circle cx="1015.2" cy="1415.8" r="35.2"/><circle cx="985.0" cy="1471.8" r="21.5"/><circle cx="985.0" cy="1471.8" r="8.8"/><circle cx="1132.0" cy="-55.4" r="35.2"/><circle cx="1101.8" cy="0.6" r="21.5"/><circle cx="1101.8" cy="0.6" r="8.8"/><circle cx="1132.0" cy="61.4" r="35.2"/><circle cx="1101.8" cy="117.4" r="21.5"/><circle cx="1101.8" cy="117.4" r="8.8"/><circle cx="1132.0" cy="178.1" r="35.2"/><circle cx="1101.8" cy="234.1" r="21.5"/><circle cx="1101.8" cy="234.1" r="8.8"/><circle cx="1132.0" cy="294.9" r="35.2"/><circle cx="1101.8" cy="350.9" r="21.5"/><circle cx="1101.8" cy="350.9" r="8.8"/><circle cx="1132.0" cy="411.6" r="35.2"/><circle cx="1101.8" cy="467.6" r="21.5"/><circle cx="1101.8" cy="467.6" r="8.8"/><circle cx="1132.0" cy="528.4" r="35.2"/><circle cx="1101.8" cy="584.4" r="21.5"/><circle cx="1101.8" cy="584.4" r="8.8"/><circle cx="1132.0" cy="645.1" r="35.2"/><circle cx="1101.8" cy="701.1" r="21.5"/><circle cx="1101.8" cy="701.1" r="8.8"/><circle cx="1132.0" cy="761.9" r="35.2"/><circle cx="1101.8" cy="817.9" r="21.5"/><circle cx="1101.8" cy="817.9" r="8.8"/><circle cx="1132.0" cy="878.6" r="35.2"/><circle cx="1101.8" cy="934.6" r="21.5"/><circle cx="1101.8" cy="934.6" r="8.8"/><circle cx="1132.0" cy="995.4" r="35.2"/><circle cx="1101.8" cy="1051.3" r="21.5"/><circle cx="1101.8" cy="1051.3" r="8.8"/><circle cx="1132.0" cy="1112.1" r="35.2"/><circle cx="1101.8" cy="1168.1" r="21.5"/><circle cx="1101.8" cy="1168.1" r="8.8"/><circle cx="1132.0" cy="1228.8" r="35.2"/><circle cx="1101.8" cy="1284.8" r="21.5"/><circle cx="1101.8" cy="1284.8" r="8.8"/><circle cx="1132.0" cy="1345.6" r="35.2"/><circle cx="1101.8" cy="1401.6" r="21.5"/><circle cx="1101.8" cy="1401.6" r="8.8"/><circle cx="1132.0" cy="1462.3" r="35.2"/><circle cx="1101.8" cy="1518.3" r="21.5"/><circle cx="1101.8" cy="1518.3" r="8.8"/>
</g>
<rect x="0" y="1401.5" width="992" height="2" fill="#b4cabd"/>
<defs><filter id="sb" x="-5%" y="-20%" width="110%" height="140%"><feGaussianBlur stdDeviation="1.2"/></filter></defs>
<polygon points="58.2,68.5 932.9,22.9 938.2,126.7 63.6,172.8" fill="#00201a" opacity="0.13" filter="url(#sb)"/>
<polygon points="56,64.5 930.7,18.95 936,122.7 61.4,168.8" fill="#07352b"/>
<g transform="rotate(-2.88 146 125)">
<text x="148.40" y="123.10" font-size="61.5" font-weight="700" fill="#fff" stroke="#fff" stroke-width="4.3" stroke-linejoin="miter" stroke-miterlimit="3" textLength="189.50" lengthAdjust="spacingAndGlyphs">binnenste</text>
</g>
<defs><radialGradient id="lg" cx="50%" cy="50%" r="50%"><stop offset="0" stop-color="#03302a"/><stop offset="0.655" stop-color="#03302a"/><stop offset="0.70" stop-color="#2f8573"/><stop offset="0.80" stop-color="#58b8a2"/><stop offset="1" stop-color="#5bbaa4"/></radialGradient></defs>
<circle cx="359.4" cy="94.7" r="22.6" fill="url(#lg)"/>
<circle cx="359.2" cy="94.8" r="9.2" fill="#f0917a"/>
<g transform="rotate(-2.88 382.9 113.4)">
<text x="383.00" y="111.40" font-size="61.5" font-weight="700" fill="#fff" stroke="#fff" stroke-width="4.3" stroke-linejoin="miter" stroke-miterlimit="3" textLength="123.00" lengthAdjust="spacingAndGlyphs">buiten</text>
</g>
<g transform="rotate(-2.88 516 107.5)">
<text x="516.10" y="104.10" font-size="62.5" font-weight="700" fill="#fff" stroke="#fff" stroke-width="4.3" stroke-linejoin="miter" stroke-miterlimit="3" textLength="343.30" lengthAdjust="spacingAndGlyphs">Moestuinkalender</text>
</g>
<g transform="rotate(-2.95 276.7 142.5)">
<text x="276.70" y="142.50" font-size="15.5" font-weight="400" fill="#fff" textLength="435.00" lengthAdjust="spacingAndGlyphs" stroke="#fff" stroke-width="0.35">Zaaien en oogsten, wanneer doe je dat? Ga zelf aan de slag!</text>
</g>
<polygon points="213.9,176.1 570.9,157.6 572.15,182.3 215.25,201.3" fill="#fff"/>
<path d="M237.17 182.11 L239.25 185.59 L243.29 186.07 L240.62 189.13 L241.41 193.11 L237.67 191.52 L234.13 193.50 L234.49 189.46 L231.51 186.70 L235.47 185.80Z" fill="#c5d34e" stroke="#c5d34e" stroke-width="1.74" stroke-linejoin="round"/>
<g transform="rotate(-3.06 258.2 193)"><text x="258.20" y="193.00" font-size="17" font-weight="700" fill="#04342a" stroke="#04342a" stroke-width="1.1" stroke-linejoin="miter" stroke-miterlimit="3" textLength="46.80" lengthAdjust="spacingAndGlyphs">Makkelijk</text></g>
<path d="M345.27 176.11 L347.35 179.59 L351.39 180.07 L348.72 183.13 L349.51 187.11 L345.77 185.52 L342.23 187.50 L342.59 183.46 L339.61 180.70 L343.57 179.80Z" fill="#c5d34e" stroke="#c5d34e" stroke-width="1.74" stroke-linejoin="round"/><path d="M361.37 175.31 L363.45 178.79 L367.49 179.27 L364.82 182.33 L365.61 186.31 L361.87 184.72 L358.33 186.70 L358.69 182.66 L355.71 179.90 L359.67 179.00Z" fill="#c5d34e" stroke="#c5d34e" stroke-width="1.74" stroke-linejoin="round"/>
<g transform="rotate(-3.06 379.3 186.5)"><text x="379.50" y="186.10" font-size="17" font-weight="700" fill="#04342a" stroke="#04342a" stroke-width="1.1" stroke-linejoin="miter" stroke-miterlimit="3" textLength="52.30" lengthAdjust="spacingAndGlyphs">Gemiddeld</text></g>
<path d="M467.77 169.91 L469.85 173.39 L473.89 173.87 L471.22 176.93 L472.01 180.91 L468.27 179.32 L464.73 181.30 L465.09 177.26 L462.11 174.50 L466.07 173.60Z" fill="#c5d34e" stroke="#c5d34e" stroke-width="1.74" stroke-linejoin="round"/><path d="M483.57 169.11 L485.65 172.59 L489.69 173.07 L487.02 176.13 L487.81 180.11 L484.07 178.52 L480.53 180.50 L480.89 176.46 L477.91 173.70 L481.87 172.80Z" fill="#c5d34e" stroke="#c5d34e" stroke-width="1.74" stroke-linejoin="round"/><path d="M499.67 168.31 L501.75 171.79 L505.79 172.27 L503.12 175.33 L503.91 179.31 L500.17 177.72 L496.63 179.70 L496.99 175.66 L494.01 172.90 L497.97 172.00Z" fill="#c5d34e" stroke="#c5d34e" stroke-width="1.74" stroke-linejoin="round"/>
<g transform="rotate(-3.06 517.2 179.3)"><text x="517.50" y="179.00" font-size="17" font-weight="700" fill="#04342a" stroke="#04342a" stroke-width="1.1" stroke-linejoin="miter" stroke-miterlimit="3" textLength="36.20" lengthAdjust="spacingAndGlyphs">Moeilijk</text></g>
<circle cx="127.2" cy="240.4" r="54.1" fill="#f0917a"/>
<text x="100.20" y="224.30" font-size="13.8" font-weight="700" fill="#fff" stroke="#fff" stroke-width="0.8" stroke-linejoin="miter" stroke-miterlimit="3" textLength="53.70" lengthAdjust="spacingAndGlyphs">Wist je dat?</text>
<text x="86.90" y="239.70" font-size="10.6" font-weight="400" fill="#fde9e3" textLength="81.00" lengthAdjust="spacingAndGlyphs">‘Voldoende zon de</text>
<text x="87.60" y="250.40" font-size="10.6" font-weight="400" fill="#fde9e3" textLength="79.60" lengthAdjust="spacingAndGlyphs">sleutel is voor een</text>
<text x="101.70" y="261.30" font-size="10.6" font-weight="400" fill="#fde9e3" textLength="51.40" lengthAdjust="spacingAndGlyphs">succesvolle</text>
<text x="105.25" y="271.80" font-size="10.6" font-weight="400" fill="#fde9e3" textLength="44.85" lengthAdjust="spacingAndGlyphs">moestuin.’</text>
<circle cx="279.4" cy="270" r="54" fill="#1bad98"/>
<text x="273.90" y="252.40" font-size="13.8" font-weight="700" fill="#fff" stroke="#fff" stroke-width="0.8" stroke-linejoin="miter" stroke-miterlimit="3" textLength="13.90" lengthAdjust="spacingAndGlyphs">Tip!</text>
<text x="240.80" y="264.60" font-size="10.6" font-weight="400" fill="#e6f7f3" textLength="79.00" lengthAdjust="spacingAndGlyphs">‘Wat eet je graag?</text>
<text x="243.80" y="275.10" font-size="10.6" font-weight="400" fill="#e6f7f3" textLength="73.40" lengthAdjust="spacingAndGlyphs">Geef die planten</text>
<text x="243.60" y="286.00" font-size="10.6" font-weight="400" fill="#e6f7f3" textLength="73.90" lengthAdjust="spacingAndGlyphs">altijd voorrang in</text>
<text x="253.30" y="296.50" font-size="10.6" font-weight="400" fill="#e6f7f3" textLength="55.10" lengthAdjust="spacingAndGlyphs">je moestuin.’</text>
<path d="M397.5 224.5L462.5 205L528 224.5" fill="none" stroke="#fff" stroke-width="2.5" stroke-linecap="round"/>
<circle cx="462.5" cy="205" r="7.5" fill="#022e25"/>
<rect x="385.75" y="225" width="154.5" height="89.5" fill="#022e25"/>
<circle cx="404.25" cy="249" r="7.25" fill="#0f5a40"/>
<circle cx="404.25" cy="272.5" r="7.25" fill="#1bad98"/>
<circle cx="404.25" cy="296" r="7.25" fill="#f0917a"/>
<text x="420.50" y="254.50" font-size="14.3" font-weight="700" fill="#fff" stroke="#fff" stroke-width="0.9" stroke-linejoin="miter" stroke-miterlimit="3" textLength="76.50" lengthAdjust="spacingAndGlyphs">Zaaien onder glas</text>
<text x="420.50" y="278.00" font-size="14.3" font-weight="700" fill="#fff" stroke="#fff" stroke-width="0.9" stroke-linejoin="miter" stroke-miterlimit="3" textLength="87.75" lengthAdjust="spacingAndGlyphs">Zaaien in volle grond</text>
<text x="420.50" y="301.50" font-size="14.3" font-weight="700" fill="#fff" stroke="#fff" stroke-width="0.9" stroke-linejoin="miter" stroke-miterlimit="3" textLength="35.25" lengthAdjust="spacingAndGlyphs">Oogsten</text>
<path d="M631.25 175L756.25 148.75L885.25 175" fill="none" stroke="#fff" stroke-width="2.5" stroke-linecap="round"/>
<circle cx="756.25" cy="148.75" r="7.5" fill="#022e25"/>
<rect x="597.6" y="176" width="319.4" height="136" fill="#000" opacity="0.07"/>
<rect x="596.75" y="201" width="319.25" height="110.25" fill="#fff"/>
<rect x="596.75" y="175" width="319.25" height="26.5" fill="#022e25"/>
<text x="648.25" y="195.00" font-size="14.4" font-weight="700" fill="#fff" stroke="#fff" stroke-width="0.9" stroke-linejoin="miter" stroke-miterlimit="3" textLength="215.75" lengthAdjust="spacingAndGlyphs">De BinnensteBuiten moestuinkalender voor jou!</text>
<g stroke="#8fa8a0" stroke-width="0.8">
<line x1="605.5" y1="202" x2="605.5" y2="306.75"/>
<line x1="605.5" y1="219.5" x2="907.75" y2="219.5"/>
<line x1="605.5" y1="232.5" x2="907.75" y2="232.5"/>
<line x1="605.5" y1="245.5" x2="907.75" y2="245.5"/>
<line x1="605.5" y1="258.5" x2="907.75" y2="258.5"/>
<line x1="605.5" y1="271.5" x2="907.75" y2="271.5"/>
<line x1="605.5" y1="284.5" x2="907.75" y2="284.5"/>
<line x1="605.5" y1="296.5" x2="907.75" y2="296.5"/>
</g>
<text x="647.00" y="215.50" font-size="10.8" font-weight="400" fill="#1d2925" textLength="221.25" lengthAdjust="spacingAndGlyphs">Hoe leuk is het als je straks uit eigen achtertuin of</text>
<text x="628.00" y="228.20" font-size="10.8" font-weight="400" fill="#1d2925" textLength="259.75" lengthAdjust="spacingAndGlyphs">plantenbak een mooie salade of een lekkere stamppot kan</text>
<text x="628.50" y="241.20" font-size="10.8" font-weight="400" fill="#1d2925" textLength="258.50" lengthAdjust="spacingAndGlyphs">maken? Deze moestuinkalender laat zien welke groente je</text>
<text x="632.50" y="254.20" font-size="10.8" font-weight="400" fill="#1d2925" textLength="250.50" lengthAdjust="spacingAndGlyphs">eenvoudig kan telen en wanneer je zaait, plant en oogst.</text>
<text x="628.50" y="267.20" font-size="10.8" font-weight="400" fill="#1d2925" textLength="258.75" lengthAdjust="spacingAndGlyphs">Houd er rekening mee dat telen van groente met vallen en</text>
<text x="678.00" y="280.20" font-size="10.8" font-weight="400" fill="#1d2925" textLength="159.50" lengthAdjust="spacingAndGlyphs">opstaan gaat. Oefening baart kunst.</text>
<text x="719.25" y="294.00" font-size="10.8" font-weight="400" fill="#1d2925" textLength="77.75" lengthAdjust="spacingAndGlyphs">Zet ‘m op tuinder!</text>
<rect x="66.5" y="337.5" width="851.7" height="925.5" fill="#00150f" opacity="0.07"/>
<rect x="65.75" y="373" width="850.75" height="888.5" fill="#fff"/>
<rect x="64.7" y="336.1" width="852.3" height="37.6" fill="#022e25"/>
<g stroke="#1e4a3d" stroke-width="0.82">
<line x1="81.5" y1="373" x2="81.5" y2="1251"/>
<line x1="252" y1="373" x2="252" y2="1251"/>
<line x1="307.5" y1="373" x2="307.5" y2="1251"/>
<line x1="362.5" y1="373" x2="362.5" y2="1251"/>
<line x1="417.75" y1="373" x2="417.75" y2="1251"/>
<line x1="473.25" y1="373" x2="473.25" y2="1251"/>
<line x1="528.5" y1="373" x2="528.5" y2="1251"/>
<line x1="584" y1="373" x2="584" y2="1251"/>
<line x1="638.7" y1="373" x2="638.7" y2="1251"/>
<line x1="694" y1="373" x2="694" y2="1251"/>
<line x1="749" y1="373" x2="749" y2="1251"/>
<line x1="804.4" y1="373" x2="804.4" y2="1251"/>
<line x1="859.5" y1="373" x2="859.5" y2="1251"/>
<line x1="81.5" y1="403.5" x2="905.2" y2="403.5"/>
<line x1="81.5" y1="435.5" x2="905.2" y2="435.5"/>
<line x1="81.5" y1="466.5" x2="905.2" y2="466.5"/>
<line x1="81.5" y1="497.5" x2="905.2" y2="497.5"/>
<line x1="81.5" y1="529.25" x2="905.2" y2="529.25"/>
<line x1="81.5" y1="560.5" x2="905.2" y2="560.5"/>
<line x1="81.5" y1="592" x2="905.2" y2="592"/>
<line x1="81.5" y1="626.25" x2="905.2" y2="626.25"/>
<line x1="81.5" y1="657.5" x2="905.2" y2="657.5"/>
<line x1="81.5" y1="689.5" x2="905.2" y2="689.5"/>
<line x1="81.5" y1="720.5" x2="905.2" y2="720.5"/>
<line x1="81.5" y1="751.75" x2="905.2" y2="751.75"/>
<line x1="81.5" y1="783" x2="905.2" y2="783"/>
<line x1="81.5" y1="814.25" x2="905.2" y2="814.25"/>
<line x1="81.5" y1="846.25" x2="905.2" y2="846.25"/>
<line x1="81.5" y1="877.5" x2="905.2" y2="877.5"/>
<line x1="81.5" y1="908.75" x2="905.2" y2="908.75"/>
<line x1="81.5" y1="941.25" x2="905.2" y2="941.25"/>
<line x1="81.5" y1="973.25" x2="905.2" y2="973.25"/>
<line x1="81.5" y1="1004.5" x2="905.2" y2="1004.5"/>
<line x1="81.5" y1="1036.25" x2="905.2" y2="1036.25"/>
<line x1="81.5" y1="1067" x2="905.2" y2="1067"/>
<line x1="81.5" y1="1098.25" x2="905.2" y2="1098.25"/>
<line x1="81.5" y1="1130" x2="905.2" y2="1130"/>
<line x1="81.5" y1="1161.25" x2="905.2" y2="1161.25"/>
<line x1="81.5" y1="1192.5" x2="905.2" y2="1192.5"/>
<line x1="81.5" y1="1223.25" x2="905.2" y2="1223.25"/>
</g>
<text x="101.60" y="362.00" font-size="18.2" font-weight="700" fill="#fff" stroke="#fff" stroke-width="1.2" stroke-linejoin="miter" stroke-miterlimit="3" textLength="75.30" lengthAdjust="spacingAndGlyphs">Gewassoort</text>
<text x="268.55" y="362.00" font-size="18.2" font-weight="700" fill="#fff" stroke="#fff" stroke-width="1.2" stroke-linejoin="miter" stroke-miterlimit="3" textLength="21.15" lengthAdjust="spacingAndGlyphs">Jan</text>
<text x="322.80" y="362.00" font-size="18.2" font-weight="700" fill="#fff" stroke="#fff" stroke-width="1.2" stroke-linejoin="miter" stroke-miterlimit="3" textLength="20.15" lengthAdjust="spacingAndGlyphs">Feb</text>
<text x="378.55" y="362.00" font-size="18.2" font-weight="700" fill="#fff" stroke="#fff" stroke-width="1.2" stroke-linejoin="miter" stroke-miterlimit="3" textLength="21.65" lengthAdjust="spacingAndGlyphs">Mrt</text>
<text x="434.55" y="362.00" font-size="18.2" font-weight="700" fill="#fff" stroke="#fff" stroke-width="1.2" stroke-linejoin="miter" stroke-miterlimit="3" textLength="20.65" lengthAdjust="spacingAndGlyphs">Apr</text>
<text x="486.70" y="362.00" font-size="18.2" font-weight="700" fill="#fff" stroke="#fff" stroke-width="1.2" stroke-linejoin="miter" stroke-miterlimit="3" textLength="19.20" lengthAdjust="spacingAndGlyphs">Mei</text>
<text x="539.00" y="362.00" font-size="18.2" font-weight="700" fill="#fff" stroke="#fff" stroke-width="1.2" stroke-linejoin="miter" stroke-miterlimit="3" textLength="21.00" lengthAdjust="spacingAndGlyphs">Jun</text>
<text x="602.40" y="362.00" font-size="18.2" font-weight="700" fill="#fff" stroke="#fff" stroke-width="1.2" stroke-linejoin="miter" stroke-miterlimit="3" textLength="16.30" lengthAdjust="spacingAndGlyphs">Jul</text>
<text x="655.20" y="362.00" font-size="18.2" font-weight="700" fill="#fff" stroke="#fff" stroke-width="1.2" stroke-linejoin="miter" stroke-miterlimit="3" textLength="21.10" lengthAdjust="spacingAndGlyphs">Aug</text>
<text x="709.60" y="362.00" font-size="18.2" font-weight="700" fill="#fff" stroke="#fff" stroke-width="1.2" stroke-linejoin="miter" stroke-miterlimit="3" textLength="21.20" lengthAdjust="spacingAndGlyphs">Sep</text>
<text x="764.30" y="362.00" font-size="18.2" font-weight="700" fill="#fff" stroke="#fff" stroke-width="1.2" stroke-linejoin="miter" stroke-miterlimit="3" textLength="19.90" lengthAdjust="spacingAndGlyphs">Okt</text>
<text x="818.05" y="362.00" font-size="18.2" font-weight="700" fill="#fff" stroke="#fff" stroke-width="1.2" stroke-linejoin="miter" stroke-miterlimit="3" textLength="21.15" lengthAdjust="spacingAndGlyphs">Nov</text>
<text x="870.05" y="362.00" font-size="18.2" font-weight="700" fill="#fff" stroke="#fff" stroke-width="1.2" stroke-linejoin="miter" stroke-miterlimit="3" textLength="21.65" lengthAdjust="spacingAndGlyphs">Dec</text>
<text x="101.60" y="395.75" font-size="18.2" font-weight="700" fill="#04342a" stroke="#04342a" stroke-width="1.2" stroke-linejoin="miter" stroke-miterlimit="3" textLength="46.05" lengthAdjust="spacingAndGlyphs">Andijvie</text>
<path d="M160.00 385.85 L160.89 387.53 L162.76 387.85 L161.43 389.22 L161.70 391.10 L160.00 390.26 L158.30 391.10 L158.57 389.22 L157.24 387.85 L159.11 387.53Z" fill="#c5d34e" stroke="#c5d34e" stroke-width="0.81" stroke-linejoin="round"/>
<circle cx="333.30" cy="391.70" r="6.4" fill="#00573d"/>
<circle cx="388.10" cy="391.70" r="6.4" fill="#1bad98"/><path d="M388.10 385.30A6.4 6.4 0 0 0 388.10 398.10Z" fill="#00573d"/>
<circle cx="443.70" cy="391.70" r="6.4" fill="#1bad98"/>
<circle cx="498.50" cy="391.70" r="6.4" fill="#f0917a"/><path d="M498.50 385.30A6.4 6.4 0 0 0 498.50 398.10Z" fill="#1bad98"/>
<circle cx="554.00" cy="391.70" r="6.4" fill="#f0917a"/><path d="M554.00 385.30A6.4 6.4 0 0 0 554.00 398.10Z" fill="#1bad98"/>
<circle cx="609.50" cy="391.70" r="6.4" fill="#f0917a"/><path d="M609.50 385.30A6.4 6.4 0 0 0 609.50 398.10Z" fill="#1bad98"/>
<circle cx="665.60" cy="391.70" r="6.4" fill="#f0917a"/><path d="M665.60 385.30A6.4 6.4 0 0 0 665.60 398.10Z" fill="#1bad98"/>
<circle cx="720.60" cy="391.70" r="6.4" fill="#f0917a"/>
<circle cx="773.90" cy="391.70" r="6.4" fill="#f0917a"/>
<circle cx="829.30" cy="391.70" r="6.4" fill="#f0917a"/>
<text x="101.60" y="426.25" font-size="18.2" font-weight="700" fill="#04342a" stroke="#04342a" stroke-width="1.2" stroke-linejoin="miter" stroke-miterlimit="3" textLength="59.80" lengthAdjust="spacingAndGlyphs">Aubergine</text>
<path d="M171.75 417.10 L172.64 418.78 L174.51 419.10 L173.18 420.47 L173.45 422.35 L171.75 421.51 L170.05 422.35 L170.32 420.47 L168.99 419.10 L170.86 418.78Z" fill="#c5d34e" stroke="#c5d34e" stroke-width="0.81" stroke-linejoin="round"/>
<path d="M180.00 417.10 L180.89 418.78 L182.76 419.10 L181.43 420.47 L181.70 422.35 L180.00 421.51 L178.30 422.35 L178.57 420.47 L177.24 419.10 L179.11 418.78Z" fill="#c5d34e" stroke="#c5d34e" stroke-width="0.81" stroke-linejoin="round"/>
<circle cx="388.10" cy="422.20" r="6.4" fill="#00573d"/>
<circle cx="443.70" cy="422.20" r="6.4" fill="#00573d"/>
<circle cx="498.50" cy="422.20" r="6.4" fill="#1bad98"/>
<circle cx="554.00" cy="422.20" r="6.4" fill="#1bad98"/>
<circle cx="720.60" cy="422.20" r="6.4" fill="#f0917a"/>
<text x="101.60" y="458.25" font-size="18.2" font-weight="700" fill="#04342a" stroke="#04342a" stroke-width="1.2" stroke-linejoin="miter" stroke-miterlimit="3" textLength="78.05" lengthAdjust="spacingAndGlyphs">Bleekselderij</text>
<path d="M187.75 450.85 L188.64 452.53 L190.51 452.85 L189.18 454.22 L189.45 456.10 L187.75 455.26 L186.05 456.10 L186.32 454.22 L184.99 452.85 L186.86 452.53Z" fill="#c5d34e" stroke="#c5d34e" stroke-width="0.81" stroke-linejoin="round"/>
<path d="M195.75 450.85 L196.64 452.53 L198.51 452.85 L197.18 454.22 L197.45 456.10 L195.75 455.26 L194.05 456.10 L194.32 454.22 L192.99 452.85 L194.86 452.53Z" fill="#c5d34e" stroke="#c5d34e" stroke-width="0.81" stroke-linejoin="round"/>
<circle cx="443.70" cy="451.20" r="6.4" fill="#1bad98"/>
<circle cx="498.50" cy="451.20" r="6.4" fill="#1bad98"/>
<circle cx="554.00" cy="451.20" r="6.4" fill="#1bad98"/>
<circle cx="720.60" cy="451.20" r="6.4" fill="#f0917a"/>
<circle cx="773.90" cy="451.20" r="6.4" fill="#f0917a"/>
<text x="101.60" y="488.75" font-size="18.2" font-weight="700" fill="#04342a" stroke="#04342a" stroke-width="1.2" stroke-linejoin="miter" stroke-miterlimit="3" textLength="59.30" lengthAdjust="spacingAndGlyphs">Bloemkool</text>
<path d="M174.75 479.60 L175.64 481.28 L177.51 481.60 L176.18 482.97 L176.45 484.85 L174.75 484.01 L173.05 484.85 L173.32 482.97 L171.99 481.60 L173.86 481.28Z" fill="#c5d34e" stroke="#c5d34e" stroke-width="0.81" stroke-linejoin="round"/>
<path d="M183.00 479.60 L183.89 481.28 L185.76 481.60 L184.43 482.97 L184.70 484.85 L183.00 484.01 L181.30 484.85 L181.57 482.97 L180.24 481.60 L182.11 481.28Z" fill="#c5d34e" stroke="#c5d34e" stroke-width="0.81" stroke-linejoin="round"/>
<path d="M191.50 479.60 L192.39 481.28 L194.26 481.60 L192.93 482.97 L193.20 484.85 L191.50 484.01 L189.80 484.85 L190.07 482.97 L188.74 481.60 L190.61 481.28Z" fill="#c5d34e" stroke="#c5d34e" stroke-width="0.81" stroke-linejoin="round"/>
<circle cx="333.30" cy="482.00" r="6.4" fill="#00573d"/>
<circle cx="388.10" cy="482.00" r="6.4" fill="#00573d"/>
<circle cx="498.50" cy="482.00" r="6.4" fill="#1bad98"/>
<circle cx="554.00" cy="482.00" r="6.4" fill="#f0917a"/><path d="M554.00 475.60A6.4 6.4 0 0 0 554.00 488.40Z" fill="#1bad98"/>
<circle cx="609.50" cy="482.00" r="6.4" fill="#f0917a"/><path d="M609.50 475.60A6.4 6.4 0 0 0 609.50 488.40Z" fill="#1bad98"/>
<circle cx="665.60" cy="482.00" r="6.4" fill="#f0917a"/><path d="M665.60 475.60A6.4 6.4 0 0 0 665.60 488.40Z" fill="#1bad98"/>
<circle cx="720.60" cy="482.00" r="6.4" fill="#f0917a"/>
<circle cx="773.90" cy="482.00" r="6.4" fill="#f0917a"/>
<circle cx="829.30" cy="482.00" r="6.4" fill="#f0917a"/>
<text x="101.60" y="519.50" font-size="18.2" font-weight="700" fill="#04342a" stroke="#04342a" stroke-width="1.2" stroke-linejoin="miter" stroke-miterlimit="3" textLength="66.80" lengthAdjust="spacingAndGlyphs">Boerenkool</text>
<path d="M177.75 509.60 L178.64 511.28 L180.51 511.60 L179.18 512.97 L179.45 514.85 L177.75 514.01 L176.05 514.85 L176.32 512.97 L174.99 511.60 L176.86 511.28Z" fill="#c5d34e" stroke="#c5d34e" stroke-width="0.81" stroke-linejoin="round"/>
<circle cx="277.40" cy="513.90" r="6.4" fill="#f0917a"/>
<circle cx="333.30" cy="513.90" r="6.4" fill="#f0917a"/>
<circle cx="388.10" cy="513.90" r="6.4" fill="#f0917a"/>
<circle cx="498.50" cy="513.90" r="6.4" fill="#00573d"/>
<circle cx="554.00" cy="513.90" r="6.4" fill="#00573d"/>
<circle cx="609.50" cy="513.90" r="6.4" fill="#1bad98"/>
<circle cx="665.60" cy="513.90" r="6.4" fill="#1bad98"/>
<circle cx="720.60" cy="513.90" r="6.4" fill="#f0917a"/>
<circle cx="773.90" cy="513.90" r="6.4" fill="#f0917a"/>
<circle cx="829.30" cy="513.90" r="6.4" fill="#f0917a"/>
<circle cx="884.10" cy="513.90" r="6.4" fill="#f0917a"/>
<text x="101.60" y="553.75" font-size="18.2" font-weight="700" fill="#04342a" stroke="#04342a" stroke-width="1.2" stroke-linejoin="miter" stroke-miterlimit="3" textLength="47.55" lengthAdjust="spacingAndGlyphs">Broccoli</text>
<path d="M162.75 544.10 L163.64 545.78 L165.51 546.10 L164.18 547.47 L164.45 549.35 L162.75 548.51 L161.05 549.35 L161.32 547.47 L159.99 546.10 L161.86 545.78Z" fill="#c5d34e" stroke="#c5d34e" stroke-width="0.81" stroke-linejoin="round"/>
<path d="M171.00 544.10 L171.89 545.78 L173.76 546.10 L172.43 547.47 L172.70 549.35 L171.00 548.51 L169.30 549.35 L169.57 547.47 L168.24 546.10 L170.11 545.78Z" fill="#c5d34e" stroke="#c5d34e" stroke-width="0.81" stroke-linejoin="round"/>
<path d="M179.50 544.10 L180.39 545.78 L182.26 546.10 L180.93 547.47 L181.20 549.35 L179.50 548.51 L177.80 549.35 L178.07 547.47 L176.74 546.10 L178.61 545.78Z" fill="#c5d34e" stroke="#c5d34e" stroke-width="0.81" stroke-linejoin="round"/>
<circle cx="333.30" cy="544.70" r="6.4" fill="#00573d"/>
<circle cx="388.10" cy="544.70" r="6.4" fill="#00573d"/>
<circle cx="443.70" cy="544.70" r="6.4" fill="#1bad98"/>
<circle cx="498.50" cy="544.70" r="6.4" fill="#1bad98"/>
<circle cx="554.00" cy="544.70" r="6.4" fill="#f0917a"/><path d="M554.00 538.30A6.4 6.4 0 0 0 554.00 551.10Z" fill="#1bad98"/>
<circle cx="609.50" cy="544.70" r="6.4" fill="#f0917a"/><path d="M609.50 538.30A6.4 6.4 0 0 0 609.50 551.10Z" fill="#1bad98"/>
<circle cx="665.60" cy="544.70" r="6.4" fill="#f0917a"/><path d="M665.60 538.30A6.4 6.4 0 0 0 665.60 551.10Z" fill="#1bad98"/>
<circle cx="720.60" cy="544.70" r="6.4" fill="#f0917a"/>
<circle cx="773.90" cy="544.70" r="6.4" fill="#f0917a"/>
<text x="101.60" y="586.50" font-size="18.2" font-weight="700" fill="#04342a" stroke="#04342a" stroke-width="1.2" stroke-linejoin="miter" stroke-miterlimit="3" textLength="60.55" lengthAdjust="spacingAndGlyphs">Courgette</text>
<path d="M171.00 579.10 L171.89 580.78 L173.76 581.10 L172.43 582.47 L172.70 584.35 L171.00 583.51 L169.30 584.35 L169.57 582.47 L168.24 581.10 L170.11 580.78Z" fill="#c5d34e" stroke="#c5d34e" stroke-width="0.81" stroke-linejoin="round"/>
<circle cx="443.70" cy="575.90" r="6.4" fill="#00573d"/>
<circle cx="498.50" cy="575.90" r="6.4" fill="#1bad98"/><path d="M498.50 569.50A6.4 6.4 0 0 0 498.50 582.30Z" fill="#00573d"/>
<circle cx="554.00" cy="575.90" r="6.4" fill="#1bad98"/>
<circle cx="609.50" cy="575.90" r="6.4" fill="#f0917a"/>
<circle cx="665.60" cy="575.90" r="6.4" fill="#f0917a"/>
<circle cx="720.60" cy="575.90" r="6.4" fill="#f0917a"/>
<circle cx="773.90" cy="575.90" r="6.4" fill="#f0917a"/>
<text x="101.60" y="618.50" font-size="18.2" font-weight="700" fill="#04342a" stroke="#04342a" stroke-width="1.2" stroke-linejoin="miter" stroke-miterlimit="3" textLength="68.05" lengthAdjust="spacingAndGlyphs">Doperwten</text>
<path d="M178.00 610.10 L178.89 611.78 L180.76 612.10 L179.43 613.47 L179.70 615.35 L178.00 614.51 L176.30 615.35 L176.57 613.47 L175.24 612.10 L177.11 611.78Z" fill="#c5d34e" stroke="#c5d34e" stroke-width="0.81" stroke-linejoin="round"/>
<circle cx="277.40" cy="609.50" r="6.4" fill="#00573d"/>
<circle cx="333.30" cy="609.50" r="6.4" fill="#00573d"/>
<circle cx="388.10" cy="609.50" r="6.4" fill="#1bad98"/><path d="M388.10 603.10A6.4 6.4 0 0 0 388.10 615.90Z" fill="#00573d"/>
<circle cx="443.70" cy="609.50" r="6.4" fill="#1bad98"/><path d="M443.70 603.10A6.4 6.4 0 0 0 443.70 615.90Z" fill="#00573d"/>
<circle cx="554.00" cy="609.50" r="6.4" fill="#f0917a"/>
<circle cx="609.50" cy="609.50" r="6.4" fill="#f0917a"/>
<circle cx="665.60" cy="609.50" r="6.4" fill="#f0917a"/>
<text x="101.60" y="651.50" font-size="18.2" font-weight="700" fill="#04342a" stroke="#04342a" stroke-width="1.2" stroke-linejoin="miter" stroke-miterlimit="3" textLength="51.05" lengthAdjust="spacingAndGlyphs">Knoflook</text>
<path d="M164.25 643.35 L165.14 645.03 L167.01 645.35 L165.68 646.72 L165.95 648.60 L164.25 647.76 L162.55 648.60 L162.82 646.72 L161.49 645.35 L163.36 645.03Z" fill="#c5d34e" stroke="#c5d34e" stroke-width="0.81" stroke-linejoin="round"/>
<circle cx="388.10" cy="643.25" r="6.4" fill="#1bad98"/>
<circle cx="665.60" cy="643.25" r="6.4" fill="#f0917a"/>
<text x="101.60" y="685.25" font-size="18.2" font-weight="700" fill="#04342a" stroke="#04342a" stroke-width="1.2" stroke-linejoin="miter" stroke-miterlimit="3" textLength="74.30" lengthAdjust="spacingAndGlyphs">Komkommer</text>
<path d="M190.25 676.10 L191.14 677.78 L193.01 678.10 L191.68 679.47 L191.95 681.35 L190.25 680.51 L188.55 681.35 L188.82 679.47 L187.49 678.10 L189.36 677.78Z" fill="#c5d34e" stroke="#c5d34e" stroke-width="0.81" stroke-linejoin="round"/>
<circle cx="443.70" cy="675.80" r="6.4" fill="#00573d"/>
<circle cx="498.50" cy="675.80" r="6.4" fill="#00573d"/>
<circle cx="554.00" cy="675.80" r="6.4" fill="#00573d"/>
<circle cx="665.60" cy="675.80" r="6.4" fill="#f0917a"/>
<circle cx="720.60" cy="675.80" r="6.4" fill="#f0917a"/>
<text x="101.60" y="715.25" font-size="18.2" font-weight="700" fill="#04342a" stroke="#04342a" stroke-width="1.2" stroke-linejoin="miter" stroke-miterlimit="3" textLength="53.05" lengthAdjust="spacingAndGlyphs">Koolraap</text>
<path d="M164.50 706.60 L165.39 708.28 L167.26 708.60 L165.93 709.97 L166.20 711.85 L164.50 711.01 L162.80 711.85 L163.07 709.97 L161.74 708.60 L163.61 708.28Z" fill="#c5d34e" stroke="#c5d34e" stroke-width="0.81" stroke-linejoin="round"/>
<path d="M173.00 706.60 L173.89 708.28 L175.76 708.60 L174.43 709.97 L174.70 711.85 L173.00 711.01 L171.30 711.85 L171.57 709.97 L170.24 708.60 L172.11 708.28Z" fill="#c5d34e" stroke="#c5d34e" stroke-width="0.81" stroke-linejoin="round"/>
<circle cx="498.50" cy="705.30" r="6.4" fill="#1bad98"/>
<circle cx="554.00" cy="705.30" r="6.4" fill="#1bad98"/>
<circle cx="773.90" cy="705.30" r="6.4" fill="#f0917a"/>
<circle cx="829.30" cy="705.30" r="6.4" fill="#f0917a"/>
<circle cx="884.10" cy="705.30" r="6.4" fill="#f0917a"/>
<text x="101.60" y="746.25" font-size="18.2" font-weight="700" fill="#04342a" stroke="#04342a" stroke-width="1.2" stroke-linejoin="miter" stroke-miterlimit="3" textLength="48.55" lengthAdjust="spacingAndGlyphs">Koolrabi</text>
<path d="M162.50 736.60 L163.39 738.28 L165.26 738.60 L163.93 739.97 L164.20 741.85 L162.50 741.01 L160.80 741.85 L161.07 739.97 L159.74 738.60 L161.61 738.28Z" fill="#c5d34e" stroke="#c5d34e" stroke-width="0.81" stroke-linejoin="round"/>
<circle cx="333.30" cy="735.10" r="6.4" fill="#00573d"/>
<circle cx="388.10" cy="735.10" r="6.4" fill="#00573d"/>
<circle cx="443.70" cy="735.10" r="6.4" fill="#1bad98"/><path d="M443.70 728.70A6.4 6.4 0 0 0 443.70 741.50Z" fill="#00573d"/>
<circle cx="498.50" cy="735.10" r="6.4" fill="#1bad98"/><path d="M498.50 728.70A6.4 6.4 0 0 0 498.50 741.50Z" fill="#00573d"/>
<circle cx="554.00" cy="735.10" r="6.4" fill="#f0917a"/><path d="M554.00 728.70A6.4 6.4 0 0 0 554.00 741.50Z" fill="#1bad98"/>
<circle cx="609.50" cy="735.10" r="6.4" fill="#f0917a"/><path d="M609.50 728.70A6.4 6.4 0 0 0 609.50 741.50Z" fill="#1bad98"/>
<circle cx="665.60" cy="735.10" r="6.4" fill="#f0917a"/>
<circle cx="720.60" cy="735.10" r="6.4" fill="#f0917a"/>
<circle cx="773.90" cy="735.10" r="6.4" fill="#f0917a"/>
<circle cx="829.30" cy="735.10" r="6.4" fill="#f0917a"/>
<text x="101.60" y="777.00" font-size="18.2" font-weight="700" fill="#04342a" stroke="#04342a" stroke-width="1.2" stroke-linejoin="miter" stroke-miterlimit="3" textLength="45.55" lengthAdjust="spacingAndGlyphs">Paprika</text>
<path d="M156.50 767.10 L157.39 768.78 L159.26 769.10 L157.93 770.47 L158.20 772.35 L156.50 771.51 L154.80 772.35 L155.07 770.47 L153.74 769.10 L155.61 768.78Z" fill="#c5d34e" stroke="#c5d34e" stroke-width="0.81" stroke-linejoin="round"/>
<circle cx="388.10" cy="768.40" r="6.4" fill="#00573d"/>
<circle cx="443.70" cy="768.40" r="6.4" fill="#00573d"/>
<circle cx="498.50" cy="768.40" r="6.4" fill="#00573d"/>
<circle cx="554.00" cy="768.40" r="6.4" fill="#00573d"/>
<circle cx="609.50" cy="768.40" r="6.4" fill="#f0917a"/>
<circle cx="665.60" cy="768.40" r="6.4" fill="#f0917a"/>
<circle cx="720.60" cy="768.40" r="6.4" fill="#f0917a"/>
<circle cx="773.90" cy="768.40" r="6.4" fill="#f0917a"/>
<text x="101.60" y="807.75" font-size="18.2" font-weight="700" fill="#04342a" stroke="#04342a" stroke-width="1.2" stroke-linejoin="miter" stroke-miterlimit="3" textLength="34.30" lengthAdjust="spacingAndGlyphs">Peper</text>
<path d="M146.00 798.60 L146.89 800.28 L148.76 800.60 L147.43 801.97 L147.70 803.85 L146.00 803.01 L144.30 803.85 L144.57 801.97 L143.24 800.60 L145.11 800.28Z" fill="#c5d34e" stroke="#c5d34e" stroke-width="0.81" stroke-linejoin="round"/>
<circle cx="388.10" cy="799.90" r="6.4" fill="#00573d"/>
<circle cx="443.70" cy="799.90" r="6.4" fill="#00573d"/>
<circle cx="498.50" cy="799.90" r="6.4" fill="#1bad98"/>
<circle cx="554.00" cy="799.90" r="6.4" fill="#1bad98"/>
<circle cx="609.50" cy="799.90" r="6.4" fill="#f0917a"/>
<circle cx="665.60" cy="799.90" r="6.4" fill="#f0917a"/>
<circle cx="720.60" cy="799.90" r="6.4" fill="#f0917a"/>
<circle cx="773.90" cy="799.90" r="6.4" fill="#f0917a"/>
<text x="101.60" y="838.00" font-size="18.2" font-weight="700" fill="#04342a" stroke="#04342a" stroke-width="1.2" stroke-linejoin="miter" stroke-miterlimit="3" textLength="52.55" lengthAdjust="spacingAndGlyphs">Pompoen</text>
<path d="M167.50 828.35 L168.39 830.03 L170.26 830.35 L168.93 831.72 L169.20 833.60 L167.50 832.76 L165.80 833.60 L166.07 831.72 L164.74 830.35 L166.61 830.03Z" fill="#c5d34e" stroke="#c5d34e" stroke-width="0.81" stroke-linejoin="round"/>
<circle cx="443.70" cy="831.40" r="6.4" fill="#00573d"/>
<circle cx="498.50" cy="831.40" r="6.4" fill="#1bad98"/><path d="M498.50 825.00A6.4 6.4 0 0 0 498.50 837.80Z" fill="#00573d"/>
<circle cx="554.00" cy="831.40" r="6.4" fill="#1bad98"/>
<circle cx="720.60" cy="831.40" r="6.4" fill="#f0917a"/>
<circle cx="773.90" cy="831.40" r="6.4" fill="#f0917a"/>
<text x="101.60" y="869.00" font-size="18.2" font-weight="700" fill="#04342a" stroke="#04342a" stroke-width="1.2" stroke-linejoin="miter" stroke-miterlimit="3" textLength="23.05" lengthAdjust="spacingAndGlyphs">Prei</text>
<path d="M133.50 859.85 L134.39 861.53 L136.26 861.85 L134.93 863.22 L135.20 865.10 L133.50 864.26 L131.80 865.10 L132.07 863.22 L130.74 861.85 L132.61 861.53Z" fill="#c5d34e" stroke="#c5d34e" stroke-width="0.81" stroke-linejoin="round"/>
<path d="M141.75 859.85 L142.64 861.53 L144.51 861.85 L143.18 863.22 L143.45 865.10 L141.75 864.26 L140.05 865.10 L140.32 863.22 L138.99 861.85 L140.86 861.53Z" fill="#c5d34e" stroke="#c5d34e" stroke-width="0.81" stroke-linejoin="round"/>
<circle cx="277.40" cy="862.70" r="6.4" fill="#00573d"/>
<circle cx="333.30" cy="862.70" r="6.4" fill="#00573d"/>
<circle cx="443.70" cy="862.70" r="6.4" fill="#1bad98"/>
<circle cx="498.50" cy="862.70" r="6.4" fill="#1bad98"/>
<circle cx="609.50" cy="862.70" r="6.4" fill="#f0917a"/>
<circle cx="665.60" cy="862.70" r="6.4" fill="#f0917a"/>
<circle cx="720.60" cy="862.70" r="6.4" fill="#f0917a"/>
<circle cx="773.90" cy="862.70" r="6.4" fill="#f0917a"/>
<text x="101.60" y="901.50" font-size="18.2" font-weight="700" fill="#04342a" stroke="#04342a" stroke-width="1.2" stroke-linejoin="miter" stroke-miterlimit="3" textLength="35.55" lengthAdjust="spacingAndGlyphs">Radijs</text>
<path d="M146.25 892.60 L147.14 894.28 L149.01 894.60 L147.68 895.97 L147.95 897.85 L146.25 897.01 L144.55 897.85 L144.82 895.97 L143.49 894.60 L145.36 894.28Z" fill="#c5d34e" stroke="#c5d34e" stroke-width="0.81" stroke-linejoin="round"/>
<circle cx="333.30" cy="893.60" r="6.4" fill="#00573d"/>
<circle cx="388.10" cy="893.60" r="6.4" fill="#00573d"/>
<circle cx="443.70" cy="893.60" r="6.4" fill="#f0917a"/><path d="M443.70 887.20A6.4 6.4 0 0 0 443.70 900.00Z" fill="#1bad98"/>
<circle cx="498.50" cy="893.60" r="6.4" fill="#f0917a"/><path d="M498.50 887.20A6.4 6.4 0 0 0 498.50 900.00Z" fill="#1bad98"/>
<circle cx="554.00" cy="893.60" r="6.4" fill="#f0917a"/><path d="M554.00 887.20A6.4 6.4 0 0 0 554.00 900.00Z" fill="#1bad98"/>
<circle cx="609.50" cy="893.60" r="6.4" fill="#f0917a"/><path d="M609.50 887.20A6.4 6.4 0 0 0 609.50 900.00Z" fill="#1bad98"/>
<circle cx="665.60" cy="893.60" r="6.4" fill="#f0917a"/><path d="M665.60 887.20A6.4 6.4 0 0 0 665.60 900.00Z" fill="#1bad98"/>
<circle cx="720.60" cy="893.60" r="6.4" fill="#f0917a"/><path d="M720.60 887.20A6.4 6.4 0 0 0 720.60 900.00Z" fill="#1bad98"/>
<circle cx="773.90" cy="893.60" r="6.4" fill="#f0917a"/>
<text x="101.60" y="932.00" font-size="18.2" font-weight="700" fill="#04342a" stroke="#04342a" stroke-width="1.2" stroke-linejoin="miter" stroke-miterlimit="3" textLength="53.80" lengthAdjust="spacingAndGlyphs">Rode biet</text>
<path d="M165.50 923.60 L166.39 925.28 L168.26 925.60 L166.93 926.97 L167.20 928.85 L165.50 928.01 L163.80 928.85 L164.07 926.97 L162.74 925.60 L164.61 925.28Z" fill="#c5d34e" stroke="#c5d34e" stroke-width="0.81" stroke-linejoin="round"/>
<circle cx="498.50" cy="926.80" r="6.4" fill="#1bad98"/>
<circle cx="554.00" cy="926.80" r="6.4" fill="#1bad98"/>
<circle cx="609.50" cy="926.80" r="6.4" fill="#f0917a"/>
<circle cx="665.60" cy="926.80" r="6.4" fill="#f0917a"/>
<circle cx="720.60" cy="926.80" r="6.4" fill="#f0917a"/>
<circle cx="773.90" cy="926.80" r="6.4" fill="#f0917a"/>
<circle cx="829.30" cy="926.80" r="6.4" fill="#f0917a"/>
<text x="101.60" y="965.00" font-size="18.2" font-weight="700" fill="#04342a" stroke="#04342a" stroke-width="1.2" stroke-linejoin="miter" stroke-miterlimit="3" textLength="38.05" lengthAdjust="spacingAndGlyphs">Rucola</text>
<path d="M149.75 956.60 L150.64 958.28 L152.51 958.60 L151.18 959.97 L151.45 961.85 L149.75 961.01 L148.05 961.85 L148.32 959.97 L146.99 958.60 L148.86 958.28Z" fill="#c5d34e" stroke="#c5d34e" stroke-width="0.81" stroke-linejoin="round"/>
<circle cx="277.40" cy="959.60" r="6.4" fill="#f0917a"/>
<circle cx="333.30" cy="959.60" r="6.4" fill="#1bad98"/>
<circle cx="388.10" cy="959.60" r="6.4" fill="#f0917a"/><path d="M388.10 953.20A6.4 6.4 0 0 0 388.10 966.00Z" fill="#1bad98"/>
<circle cx="443.70" cy="959.60" r="6.4" fill="#f0917a"/><path d="M443.70 953.20A6.4 6.4 0 0 0 443.70 966.00Z" fill="#1bad98"/>
<circle cx="498.50" cy="959.60" r="6.4" fill="#f0917a"/><path d="M498.50 953.20A6.4 6.4 0 0 0 498.50 966.00Z" fill="#1bad98"/>
<circle cx="554.00" cy="959.60" r="6.4" fill="#f0917a"/><path d="M554.00 953.20A6.4 6.4 0 0 0 554.00 966.00Z" fill="#1bad98"/>
<circle cx="609.50" cy="959.60" r="6.4" fill="#f0917a"/><path d="M609.50 953.20A6.4 6.4 0 0 0 609.50 966.00Z" fill="#1bad98"/>
<circle cx="665.60" cy="959.60" r="6.4" fill="#f0917a"/><path d="M665.60 953.20A6.4 6.4 0 0 0 665.60 966.00Z" fill="#1bad98"/>
<circle cx="720.60" cy="959.60" r="6.4" fill="#f0917a"/><path d="M720.60 953.20A6.4 6.4 0 0 0 720.60 966.00Z" fill="#1bad98"/>
<circle cx="773.90" cy="959.60" r="6.4" fill="#f0917a"/><path d="M773.90 953.20A6.4 6.4 0 0 0 773.90 966.00Z" fill="#1bad98"/>
<circle cx="829.30" cy="959.60" r="6.4" fill="#f0917a"/>
<circle cx="884.10" cy="959.60" r="6.4" fill="#f0917a"/>
<text x="101.60" y="997.00" font-size="18.2" font-weight="700" fill="#04342a" stroke="#04342a" stroke-width="1.2" stroke-linejoin="miter" stroke-miterlimit="3" textLength="16.30" lengthAdjust="spacingAndGlyphs">Sla</text>
<path d="M129.50 988.85 L130.39 990.53 L132.26 990.85 L130.93 992.22 L131.20 994.10 L129.50 993.26 L127.80 994.10 L128.07 992.22 L126.74 990.85 L128.61 990.53Z" fill="#c5d34e" stroke="#c5d34e" stroke-width="0.81" stroke-linejoin="round"/>
<path d="M138.00 988.85 L138.89 990.53 L140.76 990.85 L139.43 992.22 L139.70 994.10 L138.00 993.26 L136.30 994.10 L136.57 992.22 L135.24 990.85 L137.11 990.53Z" fill="#c5d34e" stroke="#c5d34e" stroke-width="0.81" stroke-linejoin="round"/>
<circle cx="277.40" cy="989.20" r="6.4" fill="#00573d"/>
<circle cx="333.30" cy="989.20" r="6.4" fill="#00573d"/>
<circle cx="388.10" cy="989.20" r="6.4" fill="#00573d"/>
<circle cx="443.70" cy="989.20" r="6.4" fill="#1bad98"/>
<circle cx="498.50" cy="989.20" r="6.4" fill="#1bad98"/>
<circle cx="554.00" cy="989.20" r="6.4" fill="#f0917a"/><path d="M554.00 982.80A6.4 6.4 0 0 0 554.00 995.60Z" fill="#1bad98"/>
<circle cx="609.50" cy="989.20" r="6.4" fill="#f0917a"/><path d="M609.50 982.80A6.4 6.4 0 0 0 609.50 995.60Z" fill="#1bad98"/>
<circle cx="665.60" cy="989.20" r="6.4" fill="#f0917a"/>
<circle cx="720.60" cy="989.20" r="6.4" fill="#f0917a"/>
<circle cx="773.90" cy="989.20" r="6.4" fill="#f0917a"/>
<text x="101.60" y="1029.50" font-size="18.2" font-weight="700" fill="#04342a" stroke="#04342a" stroke-width="1.2" stroke-linejoin="miter" stroke-miterlimit="3" textLength="44.30" lengthAdjust="spacingAndGlyphs">Snijbiet</text>
<path d="M157.00 1020.60 L157.89 1022.28 L159.76 1022.60 L158.43 1023.97 L158.70 1025.85 L157.00 1025.01 L155.30 1025.85 L155.57 1023.97 L154.24 1022.60 L156.11 1022.28Z" fill="#c5d34e" stroke="#c5d34e" stroke-width="0.81" stroke-linejoin="round"/>
<circle cx="333.30" cy="1020.40" r="6.4" fill="#00573d"/>
<circle cx="388.10" cy="1020.40" r="6.4" fill="#1bad98"/>
<circle cx="443.70" cy="1020.40" r="6.4" fill="#1bad98"/>
<circle cx="498.50" cy="1020.40" r="6.4" fill="#f0917a"/><path d="M498.50 1014.00A6.4 6.4 0 0 0 498.50 1026.80Z" fill="#1bad98"/>
<circle cx="554.00" cy="1020.40" r="6.4" fill="#f0917a"/><path d="M554.00 1014.00A6.4 6.4 0 0 0 554.00 1026.80Z" fill="#1bad98"/>
<circle cx="609.50" cy="1020.40" r="6.4" fill="#f0917a"/><path d="M609.50 1014.00A6.4 6.4 0 0 0 609.50 1026.80Z" fill="#1bad98"/>
<circle cx="665.60" cy="1020.40" r="6.4" fill="#f0917a"/><path d="M665.60 1014.00A6.4 6.4 0 0 0 665.60 1026.80Z" fill="#1bad98"/>
<circle cx="720.60" cy="1020.40" r="6.4" fill="#f0917a"/><path d="M720.60 1014.00A6.4 6.4 0 0 0 720.60 1026.80Z" fill="#1bad98"/>
<circle cx="773.90" cy="1020.40" r="6.4" fill="#f0917a"/>
<circle cx="829.30" cy="1020.40" r="6.4" fill="#f0917a"/>
<circle cx="884.10" cy="1020.40" r="6.4" fill="#f0917a"/>
<text x="101.60" y="1059.50" font-size="18.2" font-weight="700" fill="#04342a" stroke="#04342a" stroke-width="1.2" stroke-linejoin="miter" stroke-miterlimit="3" textLength="80.05" lengthAdjust="spacingAndGlyphs">Sperziebonen</text>
<path d="M191.25 1051.85 L192.14 1053.53 L194.01 1053.85 L192.68 1055.22 L192.95 1057.10 L191.25 1056.26 L189.55 1057.10 L189.82 1055.22 L188.49 1053.85 L190.36 1053.53Z" fill="#c5d34e" stroke="#c5d34e" stroke-width="0.81" stroke-linejoin="round"/>
<path d="M199.50 1051.85 L200.39 1053.53 L202.26 1053.85 L200.93 1055.22 L201.20 1057.10 L199.50 1056.26 L197.80 1057.10 L198.07 1055.22 L196.74 1053.85 L198.61 1053.53Z" fill="#c5d34e" stroke="#c5d34e" stroke-width="0.81" stroke-linejoin="round"/>
<circle cx="443.70" cy="1051.60" r="6.4" fill="#00573d"/>
<circle cx="498.50" cy="1051.60" r="6.4" fill="#1bad98"/><path d="M498.50 1045.20A6.4 6.4 0 0 0 498.50 1058.00Z" fill="#00573d"/>
<circle cx="554.00" cy="1051.60" r="6.4" fill="#1bad98"/>
<circle cx="609.50" cy="1051.60" r="6.4" fill="#f0917a"/><path d="M609.50 1045.20A6.4 6.4 0 0 0 609.50 1058.00Z" fill="#1bad98"/>
<circle cx="665.60" cy="1051.60" r="6.4" fill="#f0917a"/>
<circle cx="720.60" cy="1051.60" r="6.4" fill="#f0917a"/>
<text x="101.60" y="1091.25" font-size="18.2" font-weight="700" fill="#04342a" stroke="#04342a" stroke-width="1.2" stroke-linejoin="miter" stroke-miterlimit="3" textLength="47.30" lengthAdjust="spacingAndGlyphs">Spinazie</text>
<path d="M161.25 1084.10 L162.14 1085.78 L164.01 1086.10 L162.68 1087.47 L162.95 1089.35 L161.25 1088.51 L159.55 1089.35 L159.82 1087.47 L158.49 1086.10 L160.36 1085.78Z" fill="#c5d34e" stroke="#c5d34e" stroke-width="0.81" stroke-linejoin="round"/>
<path d="M169.25 1084.10 L170.14 1085.78 L172.01 1086.10 L170.68 1087.47 L170.95 1089.35 L169.25 1088.51 L167.55 1089.35 L167.82 1087.47 L166.49 1086.10 L168.36 1085.78Z" fill="#c5d34e" stroke="#c5d34e" stroke-width="0.81" stroke-linejoin="round"/>
<circle cx="277.40" cy="1083.20" r="6.4" fill="#f0917a"/><path d="M277.40 1076.80A6.4 6.4 0 0 0 277.40 1089.60Z" fill="#00573d"/>
<circle cx="333.30" cy="1083.20" r="6.4" fill="#f0917a"/><path d="M333.30 1076.80A6.4 6.4 0 0 0 333.30 1089.60Z" fill="#00573d"/>
<circle cx="388.10" cy="1083.20" r="6.4" fill="#f0917a"/><path d="M388.10 1076.80A6.4 6.4 0 0 0 388.10 1089.60Z" fill="#1bad98"/>
<circle cx="443.70" cy="1083.20" r="6.4" fill="#f0917a"/><path d="M443.70 1076.80A6.4 6.4 0 0 0 443.70 1089.60Z" fill="#1bad98"/>
<circle cx="498.50" cy="1083.20" r="6.4" fill="#f0917a"/><path d="M498.50 1076.80A6.4 6.4 0 0 0 498.50 1089.60Z" fill="#1bad98"/>
<circle cx="554.00" cy="1083.20" r="6.4" fill="#f0917a"/><path d="M554.00 1076.80A6.4 6.4 0 0 0 554.00 1089.60Z" fill="#1bad98"/>
<circle cx="609.50" cy="1083.20" r="6.4" fill="#f0917a"/><path d="M609.50 1076.80A6.4 6.4 0 0 0 609.50 1089.60Z" fill="#1bad98"/>
<circle cx="665.60" cy="1083.20" r="6.4" fill="#f0917a"/><path d="M665.60 1076.80A6.4 6.4 0 0 0 665.60 1089.60Z" fill="#1bad98"/>
<circle cx="720.60" cy="1083.20" r="6.4" fill="#f0917a"/>
<circle cx="773.90" cy="1083.20" r="6.4" fill="#f0917a"/>
<circle cx="829.30" cy="1083.20" r="6.4" fill="#f0917a"/>
<circle cx="884.10" cy="1083.20" r="6.4" fill="#f0917a"/>
<text x="101.60" y="1124.00" font-size="18.2" font-weight="700" fill="#04342a" stroke="#04342a" stroke-width="1.2" stroke-linejoin="miter" stroke-miterlimit="3" textLength="51.30" lengthAdjust="spacingAndGlyphs">Tomaten</text>
<path d="M161.75 1116.60 L162.64 1118.28 L164.51 1118.60 L163.18 1119.97 L163.45 1121.85 L161.75 1121.01 L160.05 1121.85 L160.32 1119.97 L158.99 1118.60 L160.86 1118.28Z" fill="#c5d34e" stroke="#c5d34e" stroke-width="0.81" stroke-linejoin="round"/>
<path d="M170.00 1116.60 L170.89 1118.28 L172.76 1118.60 L171.43 1119.97 L171.70 1121.85 L170.00 1121.01 L168.30 1121.85 L168.57 1119.97 L167.24 1118.60 L169.11 1118.28Z" fill="#c5d34e" stroke="#c5d34e" stroke-width="0.81" stroke-linejoin="round"/>
<circle cx="333.30" cy="1114.00" r="6.4" fill="#00573d"/>
<circle cx="388.10" cy="1114.00" r="6.4" fill="#00573d"/>
<circle cx="443.70" cy="1114.00" r="6.4" fill="#00573d"/>
<circle cx="609.50" cy="1114.00" r="6.4" fill="#f0917a"/>
<circle cx="665.60" cy="1114.00" r="6.4" fill="#f0917a"/>
<circle cx="720.60" cy="1114.00" r="6.4" fill="#f0917a"/>
<text x="101.60" y="1152.75" font-size="18.2" font-weight="700" fill="#04342a" stroke="#04342a" stroke-width="1.2" stroke-linejoin="miter" stroke-miterlimit="3" textLength="58.80" lengthAdjust="spacingAndGlyphs">Tuinbonen</text>
<path d="M173.25 1144.10 L174.14 1145.78 L176.01 1146.10 L174.68 1147.47 L174.95 1149.35 L173.25 1148.51 L171.55 1149.35 L171.82 1147.47 L170.49 1146.10 L172.36 1145.78Z" fill="#c5d34e" stroke="#c5d34e" stroke-width="0.81" stroke-linejoin="round"/>
<circle cx="277.40" cy="1146.20" r="6.4" fill="#00573d"/>
<circle cx="333.30" cy="1146.20" r="6.4" fill="#00573d"/>
<circle cx="443.70" cy="1146.20" r="6.4" fill="#1bad98"/>
<circle cx="498.50" cy="1146.20" r="6.4" fill="#f0917a"/>
<circle cx="554.00" cy="1146.20" r="6.4" fill="#f0917a"/>
<text x="101.60" y="1182.75" font-size="18.2" font-weight="700" fill="#04342a" stroke="#04342a" stroke-width="1.2" stroke-linejoin="miter" stroke-miterlimit="3" textLength="8.80" lengthAdjust="spacingAndGlyphs">Ui</text>
<path d="M123.00 1174.85 L123.89 1176.53 L125.76 1176.85 L124.43 1178.22 L124.70 1180.10 L123.00 1179.26 L121.30 1180.10 L121.57 1178.22 L120.24 1176.85 L122.11 1176.53Z" fill="#c5d34e" stroke="#c5d34e" stroke-width="0.81" stroke-linejoin="round"/>
<path d="M131.25 1174.85 L132.14 1176.53 L134.01 1176.85 L132.68 1178.22 L132.95 1180.10 L131.25 1179.26 L129.55 1180.10 L129.82 1178.22 L128.49 1176.85 L130.36 1176.53Z" fill="#c5d34e" stroke="#c5d34e" stroke-width="0.81" stroke-linejoin="round"/>
<circle cx="388.10" cy="1178.50" r="6.4" fill="#1bad98"/>
<circle cx="443.70" cy="1178.50" r="6.4" fill="#1bad98"/>
<circle cx="720.60" cy="1178.50" r="6.4" fill="#f0917a"/>
<circle cx="773.90" cy="1178.50" r="6.4" fill="#f0917a"/>
<text x="101.60" y="1214.50" font-size="18.2" font-weight="700" fill="#04342a" stroke="#04342a" stroke-width="1.2" stroke-linejoin="miter" stroke-miterlimit="3" textLength="98.05" lengthAdjust="spacingAndGlyphs">Winterpostelein</text>
<path d="M207.25 1206.10 L208.14 1207.78 L210.01 1208.10 L208.68 1209.47 L208.95 1211.35 L207.25 1210.51 L205.55 1211.35 L205.82 1209.47 L204.49 1208.10 L206.36 1207.78Z" fill="#c5d34e" stroke="#c5d34e" stroke-width="0.81" stroke-linejoin="round"/>
<circle cx="277.40" cy="1209.70" r="6.4" fill="#f0917a"/>
<circle cx="333.30" cy="1209.70" r="6.4" fill="#f0917a"/>
<circle cx="388.10" cy="1209.70" r="6.4" fill="#f0917a"/>
<circle cx="665.60" cy="1209.70" r="6.4" fill="#00573d"/>
<circle cx="720.60" cy="1209.70" r="6.4" fill="#00573d"/>
<circle cx="829.30" cy="1209.70" r="6.4" fill="#f0917a"/>
<circle cx="884.10" cy="1209.70" r="6.4" fill="#f0917a"/>
<text x="101.60" y="1244.50" font-size="18.2" font-weight="700" fill="#04342a" stroke="#04342a" stroke-width="1.2" stroke-linejoin="miter" stroke-miterlimit="3" textLength="42.55" lengthAdjust="spacingAndGlyphs">Wortel</text>
<path d="M152.50 1235.85 L153.39 1237.53 L155.26 1237.85 L153.93 1239.22 L154.20 1241.10 L152.50 1240.26 L150.80 1241.10 L151.07 1239.22 L149.74 1237.85 L151.61 1237.53Z" fill="#c5d34e" stroke="#c5d34e" stroke-width="0.81" stroke-linejoin="round"/>
<path d="M160.75 1235.85 L161.64 1237.53 L163.51 1237.85 L162.18 1239.22 L162.45 1241.10 L160.75 1240.26 L159.05 1241.10 L159.32 1239.22 L157.99 1237.85 L159.86 1237.53Z" fill="#c5d34e" stroke="#c5d34e" stroke-width="0.81" stroke-linejoin="round"/>
<circle cx="333.30" cy="1239.20" r="6.4" fill="#00573d"/>
<circle cx="388.10" cy="1239.20" r="6.4" fill="#00573d"/>
<circle cx="443.70" cy="1239.20" r="6.4" fill="#1bad98"/>
<circle cx="498.50" cy="1239.20" r="6.4" fill="#1bad98"/>
<circle cx="554.00" cy="1239.20" r="6.4" fill="#1bad98"/>
<circle cx="609.50" cy="1239.20" r="6.4" fill="#f0917a"/><path d="M609.50 1232.80A6.4 6.4 0 0 0 609.50 1245.60Z" fill="#1bad98"/>
<circle cx="665.60" cy="1239.20" r="6.4" fill="#f0917a"/>
<circle cx="720.60" cy="1239.20" r="6.4" fill="#f0917a"/>
<circle cx="773.90" cy="1239.20" r="6.4" fill="#f0917a"/>
<circle cx="829.30" cy="1239.20" r="6.4" fill="#f0917a"/>
<circle cx="883.7" cy="624.2" r="51.7" fill="#0b553c"/>
<text x="863.60" y="601.30" font-size="13.8" font-weight="700" fill="#fff" stroke="#fff" stroke-width="0.8" stroke-linejoin="miter" stroke-miterlimit="3" textLength="41.60" lengthAdjust="spacingAndGlyphs">Challenge!</text>
<text x="844.10" y="617.10" font-size="10.6" font-weight="400" fill="#e4efe9" textLength="79.80" lengthAdjust="spacingAndGlyphs">‘Last van slakken?</text>
<text x="843.00" y="627.70" font-size="10.6" font-weight="400" fill="#e4efe9" textLength="82.40" lengthAdjust="spacingAndGlyphs">Ga ze te lijf op een</text>
<text x="843.90" y="638.40" font-size="10.6" font-weight="400" fill="#e4efe9" textLength="80.40" lengthAdjust="spacingAndGlyphs">natuurlijke manier.</text>
<text x="858.50" y="649.00" font-size="10.6" font-weight="400" fill="#e4efe9" textLength="51.20" lengthAdjust="spacingAndGlyphs">Dat is beter</text>
<text x="857.70" y="659.30" font-size="10.6" font-weight="400" fill="#e4efe9" textLength="54.20" lengthAdjust="spacingAndGlyphs">voor je tuin.’</text>
<rect x="68.1" y="1274.4" width="283.8" height="114" fill="#022e25"/>
<text x="148.75" y="1304.10" font-size="15.5" font-weight="700" fill="#fff" textLength="123.50" lengthAdjust="spacingAndGlyphs">BinnensteBuiten</text>
<text x="93.10" y="1320.60" font-size="10.6" font-weight="400" fill="#fff" textLength="235.30" lengthAdjust="spacingAndGlyphs">Jouw dagelijkse inspiratie voor een duurzamer leven.</text>
<text x="87.80" y="1337.20" font-size="10.6" font-weight="400" fill="#fff" textLength="245.95" lengthAdjust="spacingAndGlyphs">Veel dank aan biologisch tuinder Wietse Bakker die met</text>
<text x="94.70" y="1349.10" font-size="10.6" font-weight="400" fill="#fff" textLength="231.55" lengthAdjust="spacingAndGlyphs">BinnensteBuiten deze kalender heeft samengesteld.</text>
<text x="185.00" y="1372.40" font-size="13" font-weight="700" fill="#fff" stroke="#fff" stroke-width="0.6" stroke-linejoin="miter" stroke-miterlimit="3" textLength="13.80" lengthAdjust="spacingAndGlyphs">kro</text>
<circle cx="204.4" cy="1368.4" r="4.6" fill="#1ea7e1"/><circle cx="204.4" cy="1368.4" r="3.3" fill="#b4d334"/><circle cx="204.4" cy="1368.4" r="2.1" fill="#e6197f"/>
<text x="209.80" y="1372.40" font-size="13" font-weight="700" fill="#fff" stroke="#fff" stroke-width="0.6" stroke-linejoin="miter" stroke-miterlimit="3" textLength="17.80" lengthAdjust="spacingAndGlyphs">ncrv</text>
<circle cx="557.9" cy="1320.9" r="53.9" fill="#c9d653"/>
<text x="551.60" y="1299.80" font-size="13.8" font-weight="700" fill="#fff" stroke="#fff" stroke-width="0.8" stroke-linejoin="miter" stroke-miterlimit="3" textLength="13.70" lengthAdjust="spacingAndGlyphs">Tip!</text>
<text x="535.00" y="1312.20" font-size="10.6" font-weight="400" fill="#f7fae0" textLength="45.50" lengthAdjust="spacingAndGlyphs">‘Maak een</text>
<text x="519.20" y="1322.90" font-size="10.6" font-weight="400" fill="#f7fae0" textLength="76.70" lengthAdjust="spacingAndGlyphs">jaarplanning voor</text>
<text x="521.20" y="1333.70" font-size="10.6" font-weight="400" fill="#f7fae0" textLength="73.00" lengthAdjust="spacingAndGlyphs">je tuin. Zo kan je</text>
<text x="517.90" y="1344.50" font-size="10.6" font-weight="400" fill="#f7fae0" textLength="79.30" lengthAdjust="spacingAndGlyphs">jaarrond oogsten.’</text>
<circle cx="790" cy="1336.8" r="54.1" fill="#f0917a"/>
<text x="783.10" y="1309.90" font-size="13.8" font-weight="700" fill="#fff" stroke="#fff" stroke-width="0.8" stroke-linejoin="miter" stroke-miterlimit="3" textLength="14.00" lengthAdjust="spacingAndGlyphs">Tip!</text>
<text x="764.70" y="1322.80" font-size="10.6" font-weight="400" fill="#fde9e3" textLength="50.10" lengthAdjust="spacingAndGlyphs">‘Zorg dat je</text>
<text x="747.90" y="1333.30" font-size="10.6" font-weight="400" fill="#fde9e3" textLength="83.50" lengthAdjust="spacingAndGlyphs">wisselteelt toepast</text>
<text x="762.40" y="1344.10" font-size="10.6" font-weight="400" fill="#fde9e3" textLength="54.70" lengthAdjust="spacingAndGlyphs">op eenjarige</text>
<text x="746.60" y="1354.90" font-size="10.6" font-weight="400" fill="#fde9e3" textLength="85.60" lengthAdjust="spacingAndGlyphs">planten. Zo blijft de</text>
<text x="750.60" y="1365.40" font-size="10.6" font-weight="400" fill="#fde9e3" textLength="79.30" lengthAdjust="spacingAndGlyphs">grond voedzaam.’</text>
</svg></body></html>
